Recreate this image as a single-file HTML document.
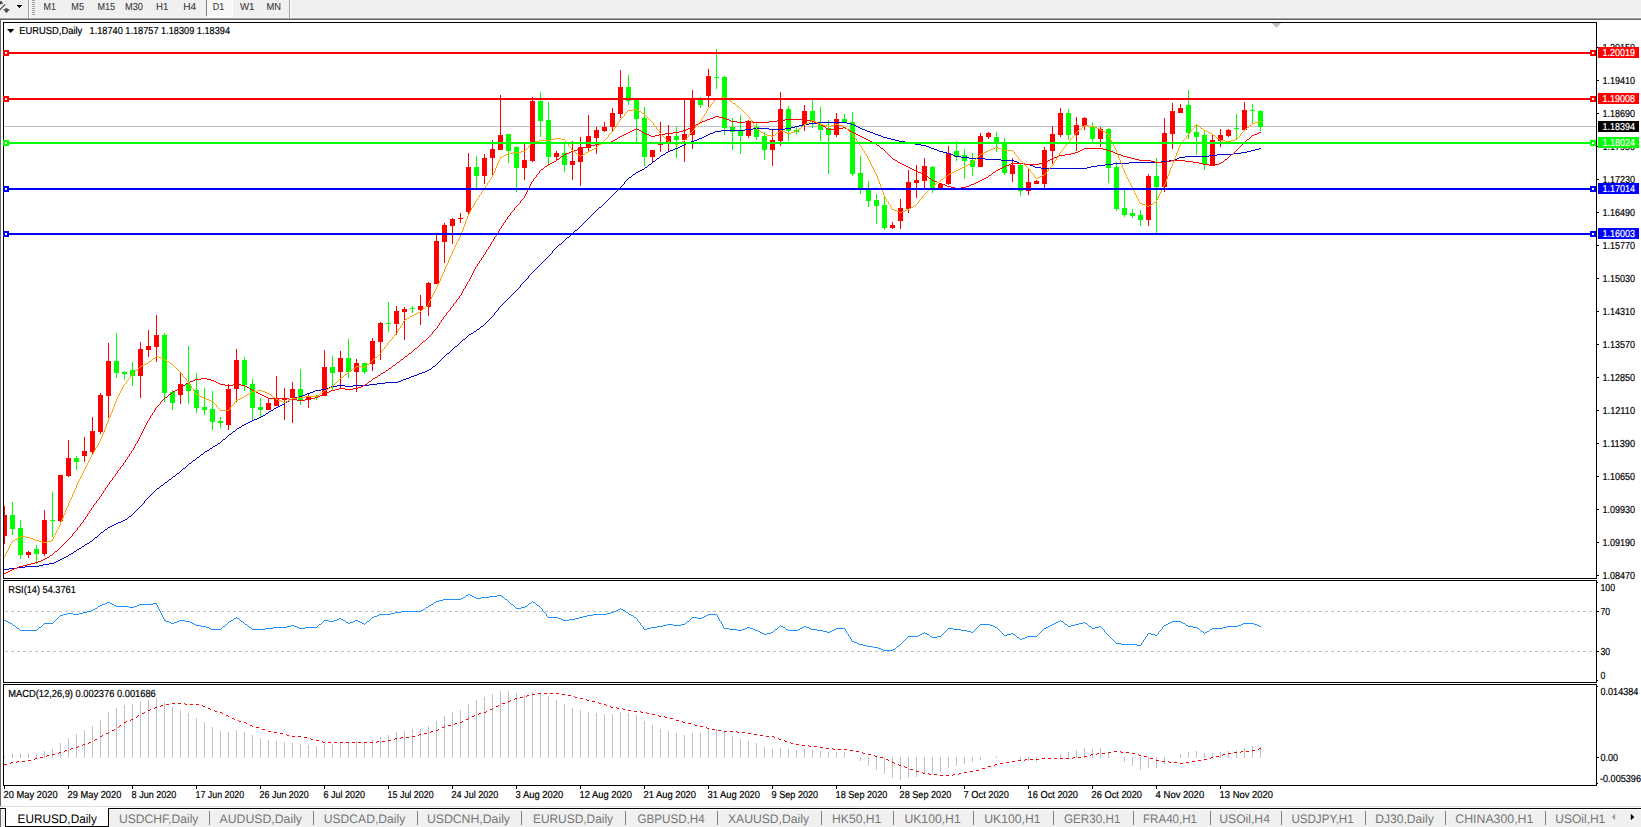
<!DOCTYPE html>
<html><head><meta charset="utf-8"><title>EURUSD,Daily</title>
<style>html,body{margin:0;padding:0;background:#fff;overflow:hidden}svg{display:block}text{font-family:'Liberation Sans',sans-serif;text-rendering:geometricPrecision}</style>
</head><body>
<svg width="1641" height="827" viewBox="0 0 1641 827">
<g shape-rendering="crispEdges">
<rect x="0" y="0" width="1641" height="827" fill="#ffffff"/>
<rect x="0" y="0" width="1641" height="18" fill="#f0f0f0"/>
<rect x="0" y="17" width="1641" height="1" fill="#f6f6f6"/>
<rect x="0" y="18" width="1641" height="1" fill="#a0a0a0"/>
<rect x="0" y="19" width="1641" height="1" fill="#696969"/>
<rect x="0" y="19" width="1" height="789" fill="#696969"/>
<rect x="28" y="0" width="1" height="18" fill="#a0a0a0"/>
<rect x="29" y="0" width="1" height="18" fill="#ffffff"/>
<rect x="289" y="0" width="1" height="18" fill="#a0a0a0"/>
<rect x="290" y="0" width="1" height="18" fill="#ffffff"/>
<rect x="32" y="0" width="3" height="1" fill="#a0a0a0"/>
<rect x="32" y="2" width="3" height="1" fill="#a0a0a0"/>
<rect x="32" y="4" width="3" height="1" fill="#a0a0a0"/>
<rect x="32" y="6" width="3" height="1" fill="#a0a0a0"/>
<rect x="32" y="8" width="3" height="1" fill="#a0a0a0"/>
<rect x="32" y="10" width="3" height="1" fill="#a0a0a0"/>
<rect x="32" y="12" width="3" height="1" fill="#a0a0a0"/>
<rect x="32" y="14" width="3" height="1" fill="#a0a0a0"/>
<rect x="207" y="0" width="25" height="16" fill="#f8f8f8"/>
<rect x="206" y="0" width="1" height="16" fill="#808080"/>
<rect x="207" y="16" width="26" height="1" fill="#ffffff"/>
<rect x="232" y="0" width="1" height="17" fill="#ffffff"/>
<path d="M17 5h5l-2.5 3z" fill="#000"/>
</g>
<path d="M0 1h1.5l1.7 2.5L0 4.5z M0 8.8L4.5 4l0.9 0.8L0 10.6z M3 9.3h2.2v-1h2.4v1H10L6.5 13z" fill="#4a4a4a"/>
<text x="43.6" y="10" font-size="10.2" fill="#383838" stroke="#383838" stroke-width="0.08" textLength="12.4" lengthAdjust="spacingAndGlyphs" xml:space="preserve">M1</text>
<text x="71.3" y="10" font-size="10.2" fill="#383838" stroke="#383838" stroke-width="0.08" textLength="12.7" lengthAdjust="spacingAndGlyphs" xml:space="preserve">M5</text>
<text x="97.4" y="10" font-size="10.2" fill="#383838" stroke="#383838" stroke-width="0.08" textLength="17.6" lengthAdjust="spacingAndGlyphs" xml:space="preserve">M15</text>
<text x="125" y="10" font-size="10.2" fill="#383838" stroke="#383838" stroke-width="0.08" textLength="18" lengthAdjust="spacingAndGlyphs" xml:space="preserve">M30</text>
<text x="156" y="10" font-size="10.2" fill="#383838" stroke="#383838" stroke-width="0.08" textLength="12.3" lengthAdjust="spacingAndGlyphs" xml:space="preserve">H1</text>
<text x="183.3" y="10" font-size="10.2" fill="#383838" stroke="#383838" stroke-width="0.08" textLength="12.9" lengthAdjust="spacingAndGlyphs" xml:space="preserve">H4</text>
<text x="212.8" y="10" font-size="10.2" fill="#383838" stroke="#383838" stroke-width="0.08" textLength="11.4" lengthAdjust="spacingAndGlyphs" xml:space="preserve">D1</text>
<text x="240" y="10" font-size="10.2" fill="#383838" stroke="#383838" stroke-width="0.08" textLength="14.5" lengthAdjust="spacingAndGlyphs" xml:space="preserve">W1</text>
<text x="266.5" y="10" font-size="10.2" fill="#383838" stroke="#383838" stroke-width="0.08" textLength="14.5" lengthAdjust="spacingAndGlyphs" xml:space="preserve">MN</text>
<g shape-rendering="crispEdges">
<rect x="3" y="22" width="1594" height="1" fill="#000000"/>
<rect x="3" y="578" width="1594" height="1" fill="#000000"/>
<rect x="3" y="22" width="1" height="557" fill="#000000"/>
<rect x="1596" y="22" width="1" height="557" fill="#000000"/>
<rect x="3" y="580" width="1594" height="1" fill="#000000"/>
<rect x="3" y="682" width="1594" height="1" fill="#000000"/>
<rect x="3" y="580" width="1" height="103" fill="#000000"/>
<rect x="1596" y="580" width="1" height="103" fill="#000000"/>
<rect x="3" y="684" width="1594" height="1" fill="#000000"/>
<rect x="3" y="785" width="1594" height="1" fill="#000000"/>
<rect x="3" y="684" width="1" height="102" fill="#000000"/>
<rect x="1596" y="684" width="1" height="102" fill="#000000"/>
<path d="M1272 23h9l-4.5 5z" fill="#c0c0c0" shape-rendering="auto"/>
<rect x="4" y="126" width="1592" height="1" fill="#c0c0c0"/>
<rect x="4" y="506" width="1" height="38" fill="#ff0000"/>
<rect x="4" y="515" width="3" height="21" fill="#ff0000"/>
<rect x="12" y="502" width="1" height="33" fill="#00ff00"/>
<rect x="10" y="515" width="5" height="14" fill="#00ff00"/>
<rect x="20" y="520" width="1" height="39" fill="#00ff00"/>
<rect x="18" y="528" width="5" height="27" fill="#00ff00"/>
<rect x="28" y="551" width="1" height="7" fill="#ff0000"/>
<rect x="26" y="552" width="5" height="3" fill="#ff0000"/>
<rect x="36" y="545" width="1" height="19" fill="#00ff00"/>
<rect x="34" y="549" width="5" height="5" fill="#00ff00"/>
<rect x="44" y="510" width="1" height="46" fill="#ff0000"/>
<rect x="42" y="520" width="5" height="34" fill="#ff0000"/>
<rect x="52" y="492" width="1" height="45" fill="#00ff00"/>
<rect x="50" y="520" width="5" height="1" fill="#00ff00"/>
<rect x="60" y="475" width="1" height="47" fill="#ff0000"/>
<rect x="58" y="475" width="5" height="46" fill="#ff0000"/>
<rect x="68" y="440" width="1" height="37" fill="#ff0000"/>
<rect x="66" y="458" width="5" height="18" fill="#ff0000"/>
<rect x="76" y="456" width="1" height="14" fill="#00ff00"/>
<rect x="74" y="458" width="5" height="4" fill="#00ff00"/>
<rect x="84" y="437" width="1" height="25" fill="#ff0000"/>
<rect x="82" y="451" width="5" height="5" fill="#ff0000"/>
<rect x="92" y="417" width="1" height="37" fill="#ff0000"/>
<rect x="90" y="431" width="5" height="21" fill="#ff0000"/>
<rect x="100" y="393" width="1" height="41" fill="#ff0000"/>
<rect x="98" y="395" width="5" height="37" fill="#ff0000"/>
<rect x="108" y="343" width="1" height="75" fill="#ff0000"/>
<rect x="106" y="361" width="5" height="35" fill="#ff0000"/>
<rect x="116" y="333" width="1" height="45" fill="#00ff00"/>
<rect x="114" y="361" width="5" height="12" fill="#00ff00"/>
<rect x="124" y="371" width="1" height="9" fill="#00ff00"/>
<rect x="122" y="372" width="5" height="2" fill="#00ff00"/>
<rect x="132" y="362" width="1" height="24" fill="#00ff00"/>
<rect x="130" y="370" width="5" height="6" fill="#00ff00"/>
<rect x="140" y="342" width="1" height="56" fill="#ff0000"/>
<rect x="138" y="349" width="5" height="27" fill="#ff0000"/>
<rect x="148" y="330" width="1" height="27" fill="#ff0000"/>
<rect x="146" y="346" width="5" height="4" fill="#ff0000"/>
<rect x="156" y="315" width="1" height="47" fill="#ff0000"/>
<rect x="154" y="335" width="5" height="12" fill="#ff0000"/>
<rect x="164" y="333" width="1" height="69" fill="#00ff00"/>
<rect x="162" y="335" width="5" height="58" fill="#00ff00"/>
<rect x="172" y="390" width="1" height="20" fill="#00ff00"/>
<rect x="170" y="392" width="5" height="11" fill="#00ff00"/>
<rect x="180" y="373" width="1" height="31" fill="#ff0000"/>
<rect x="178" y="384" width="5" height="11" fill="#ff0000"/>
<rect x="188" y="346" width="1" height="58" fill="#00ff00"/>
<rect x="186" y="384" width="5" height="7" fill="#00ff00"/>
<rect x="196" y="373" width="1" height="40" fill="#00ff00"/>
<rect x="194" y="390" width="5" height="18" fill="#00ff00"/>
<rect x="204" y="388" width="1" height="27" fill="#00ff00"/>
<rect x="202" y="407" width="5" height="3" fill="#00ff00"/>
<rect x="212" y="391" width="1" height="39" fill="#00ff00"/>
<rect x="210" y="409" width="5" height="13" fill="#00ff00"/>
<rect x="220" y="417" width="1" height="11" fill="#00ff00"/>
<rect x="218" y="421" width="5" height="2" fill="#00ff00"/>
<rect x="228" y="384" width="1" height="46" fill="#ff0000"/>
<rect x="226" y="389" width="5" height="36" fill="#ff0000"/>
<rect x="236" y="349" width="1" height="53" fill="#ff0000"/>
<rect x="234" y="360" width="5" height="29" fill="#ff0000"/>
<rect x="244" y="357" width="1" height="34" fill="#00ff00"/>
<rect x="242" y="360" width="5" height="25" fill="#00ff00"/>
<rect x="252" y="379" width="1" height="41" fill="#00ff00"/>
<rect x="250" y="384" width="5" height="24" fill="#00ff00"/>
<rect x="260" y="398" width="1" height="20" fill="#00ff00"/>
<rect x="258" y="407" width="5" height="3" fill="#00ff00"/>
<rect x="268" y="398" width="1" height="12" fill="#ff0000"/>
<rect x="266" y="403" width="5" height="7" fill="#ff0000"/>
<rect x="276" y="376" width="1" height="30" fill="#ff0000"/>
<rect x="274" y="399" width="5" height="7" fill="#ff0000"/>
<rect x="284" y="388" width="1" height="32" fill="#ff0000"/>
<rect x="282" y="398" width="5" height="2" fill="#ff0000"/>
<rect x="292" y="382" width="1" height="41" fill="#ff0000"/>
<rect x="290" y="389" width="5" height="9" fill="#ff0000"/>
<rect x="300" y="369" width="1" height="36" fill="#00ff00"/>
<rect x="298" y="389" width="5" height="11" fill="#00ff00"/>
<rect x="308" y="394" width="1" height="14" fill="#ff0000"/>
<rect x="306" y="397" width="5" height="3" fill="#ff0000"/>
<rect x="316" y="395" width="1" height="5" fill="#00ff00"/>
<rect x="314" y="396" width="5" height="1" fill="#00ff00"/>
<rect x="324" y="350" width="1" height="46" fill="#ff0000"/>
<rect x="322" y="367" width="5" height="29" fill="#ff0000"/>
<rect x="332" y="356" width="1" height="34" fill="#00ff00"/>
<rect x="330" y="367" width="5" height="6" fill="#00ff00"/>
<rect x="340" y="351" width="1" height="37" fill="#ff0000"/>
<rect x="338" y="358" width="5" height="14" fill="#ff0000"/>
<rect x="348" y="339" width="1" height="39" fill="#00ff00"/>
<rect x="346" y="358" width="5" height="14" fill="#00ff00"/>
<rect x="356" y="359" width="1" height="33" fill="#ff0000"/>
<rect x="354" y="363" width="5" height="9" fill="#ff0000"/>
<rect x="364" y="363" width="1" height="11" fill="#00ff00"/>
<rect x="362" y="363" width="5" height="9" fill="#00ff00"/>
<rect x="372" y="338" width="1" height="33" fill="#ff0000"/>
<rect x="370" y="341" width="5" height="23" fill="#ff0000"/>
<rect x="380" y="322" width="1" height="38" fill="#ff0000"/>
<rect x="378" y="323" width="5" height="19" fill="#ff0000"/>
<rect x="388" y="302" width="1" height="30" fill="#00ff00"/>
<rect x="386" y="323" width="5" height="1" fill="#00ff00"/>
<rect x="396" y="306" width="1" height="29" fill="#ff0000"/>
<rect x="394" y="311" width="5" height="13" fill="#ff0000"/>
<rect x="404" y="307" width="1" height="33" fill="#ff0000"/>
<rect x="402" y="309" width="5" height="3" fill="#ff0000"/>
<rect x="412" y="306" width="1" height="7" fill="#00ff00"/>
<rect x="410" y="308" width="5" height="1" fill="#00ff00"/>
<rect x="420" y="295" width="1" height="30" fill="#ff0000"/>
<rect x="418" y="306" width="5" height="4" fill="#ff0000"/>
<rect x="428" y="282" width="1" height="34" fill="#ff0000"/>
<rect x="426" y="283" width="5" height="24" fill="#ff0000"/>
<rect x="436" y="234" width="1" height="50" fill="#ff0000"/>
<rect x="434" y="241" width="5" height="43" fill="#ff0000"/>
<rect x="444" y="223" width="1" height="40" fill="#ff0000"/>
<rect x="442" y="225" width="5" height="17" fill="#ff0000"/>
<rect x="452" y="218" width="1" height="26" fill="#ff0000"/>
<rect x="450" y="219" width="5" height="7" fill="#ff0000"/>
<rect x="460" y="213" width="1" height="10" fill="#ff0000"/>
<rect x="458" y="218" width="5" height="1" fill="#ff0000"/>
<rect x="468" y="153" width="1" height="61" fill="#ff0000"/>
<rect x="466" y="167" width="5" height="45" fill="#ff0000"/>
<rect x="476" y="156" width="1" height="34" fill="#00ff00"/>
<rect x="474" y="167" width="5" height="9" fill="#00ff00"/>
<rect x="484" y="154" width="1" height="30" fill="#ff0000"/>
<rect x="482" y="158" width="5" height="18" fill="#ff0000"/>
<rect x="492" y="140" width="1" height="37" fill="#ff0000"/>
<rect x="490" y="149" width="5" height="9" fill="#ff0000"/>
<rect x="500" y="95" width="1" height="55" fill="#ff0000"/>
<rect x="498" y="135" width="5" height="15" fill="#ff0000"/>
<rect x="508" y="134" width="1" height="29" fill="#00ff00"/>
<rect x="506" y="134" width="5" height="17" fill="#00ff00"/>
<rect x="516" y="146" width="1" height="46" fill="#00ff00"/>
<rect x="514" y="147" width="5" height="21" fill="#00ff00"/>
<rect x="524" y="144" width="1" height="36" fill="#ff0000"/>
<rect x="522" y="160" width="5" height="8" fill="#ff0000"/>
<rect x="532" y="97" width="1" height="65" fill="#ff0000"/>
<rect x="530" y="101" width="5" height="60" fill="#ff0000"/>
<rect x="540" y="92" width="1" height="45" fill="#00ff00"/>
<rect x="538" y="101" width="5" height="20" fill="#00ff00"/>
<rect x="548" y="102" width="1" height="64" fill="#00ff00"/>
<rect x="546" y="120" width="5" height="37" fill="#00ff00"/>
<rect x="556" y="151" width="1" height="9" fill="#ff0000"/>
<rect x="554" y="153" width="5" height="4" fill="#ff0000"/>
<rect x="564" y="143" width="1" height="29" fill="#00ff00"/>
<rect x="562" y="153" width="5" height="12" fill="#00ff00"/>
<rect x="572" y="141" width="1" height="39" fill="#ff0000"/>
<rect x="570" y="161" width="5" height="4" fill="#ff0000"/>
<rect x="580" y="137" width="1" height="49" fill="#ff0000"/>
<rect x="578" y="147" width="5" height="15" fill="#ff0000"/>
<rect x="588" y="115" width="1" height="37" fill="#ff0000"/>
<rect x="586" y="136" width="5" height="12" fill="#ff0000"/>
<rect x="596" y="127" width="1" height="27" fill="#ff0000"/>
<rect x="594" y="130" width="5" height="8" fill="#ff0000"/>
<rect x="604" y="122" width="1" height="10" fill="#ff0000"/>
<rect x="602" y="127" width="5" height="4" fill="#ff0000"/>
<rect x="612" y="108" width="1" height="24" fill="#ff0000"/>
<rect x="610" y="113" width="5" height="14" fill="#ff0000"/>
<rect x="620" y="70" width="1" height="48" fill="#ff0000"/>
<rect x="618" y="87" width="5" height="27" fill="#ff0000"/>
<rect x="628" y="75" width="1" height="30" fill="#00ff00"/>
<rect x="626" y="87" width="5" height="14" fill="#00ff00"/>
<rect x="636" y="100" width="1" height="44" fill="#00ff00"/>
<rect x="634" y="100" width="5" height="19" fill="#00ff00"/>
<rect x="644" y="107" width="1" height="59" fill="#00ff00"/>
<rect x="642" y="118" width="5" height="39" fill="#00ff00"/>
<rect x="652" y="150" width="1" height="12" fill="#ff0000"/>
<rect x="650" y="150" width="5" height="7" fill="#ff0000"/>
<rect x="660" y="122" width="1" height="30" fill="#ff0000"/>
<rect x="658" y="144" width="5" height="1" fill="#ff0000"/>
<rect x="668" y="125" width="1" height="27" fill="#ff0000"/>
<rect x="666" y="136" width="5" height="6" fill="#ff0000"/>
<rect x="676" y="127" width="1" height="31" fill="#00ff00"/>
<rect x="674" y="136" width="5" height="4" fill="#00ff00"/>
<rect x="684" y="100" width="1" height="62" fill="#ff0000"/>
<rect x="682" y="134" width="5" height="6" fill="#ff0000"/>
<rect x="692" y="90" width="1" height="59" fill="#ff0000"/>
<rect x="690" y="99" width="5" height="36" fill="#ff0000"/>
<rect x="700" y="97" width="1" height="11" fill="#00ff00"/>
<rect x="698" y="100" width="5" height="5" fill="#00ff00"/>
<rect x="708" y="69" width="1" height="38" fill="#ff0000"/>
<rect x="706" y="76" width="5" height="20" fill="#ff0000"/>
<rect x="716" y="49" width="1" height="40" fill="#00ff00"/>
<rect x="714" y="77" width="5" height="1" fill="#00ff00"/>
<rect x="724" y="76" width="1" height="59" fill="#00ff00"/>
<rect x="722" y="77" width="5" height="51" fill="#00ff00"/>
<rect x="732" y="118" width="1" height="32" fill="#00ff00"/>
<rect x="730" y="127" width="5" height="5" fill="#00ff00"/>
<rect x="740" y="115" width="1" height="39" fill="#00ff00"/>
<rect x="738" y="130" width="5" height="6" fill="#00ff00"/>
<rect x="748" y="120" width="1" height="18" fill="#ff0000"/>
<rect x="746" y="121" width="5" height="15" fill="#ff0000"/>
<rect x="756" y="123" width="1" height="17" fill="#00ff00"/>
<rect x="754" y="127" width="5" height="10" fill="#00ff00"/>
<rect x="764" y="132" width="1" height="28" fill="#00ff00"/>
<rect x="762" y="136" width="5" height="14" fill="#00ff00"/>
<rect x="772" y="130" width="1" height="36" fill="#ff0000"/>
<rect x="770" y="140" width="5" height="10" fill="#ff0000"/>
<rect x="780" y="92" width="1" height="54" fill="#ff0000"/>
<rect x="778" y="109" width="5" height="32" fill="#ff0000"/>
<rect x="788" y="106" width="1" height="35" fill="#00ff00"/>
<rect x="786" y="109" width="5" height="22" fill="#00ff00"/>
<rect x="796" y="127" width="1" height="7" fill="#00ff00"/>
<rect x="794" y="130" width="5" height="2" fill="#00ff00"/>
<rect x="804" y="105" width="1" height="26" fill="#ff0000"/>
<rect x="802" y="111" width="5" height="14" fill="#ff0000"/>
<rect x="812" y="100" width="1" height="28" fill="#00ff00"/>
<rect x="810" y="111" width="5" height="11" fill="#00ff00"/>
<rect x="820" y="107" width="1" height="34" fill="#00ff00"/>
<rect x="818" y="124" width="5" height="6" fill="#00ff00"/>
<rect x="828" y="120" width="1" height="54" fill="#00ff00"/>
<rect x="826" y="128" width="5" height="7" fill="#00ff00"/>
<rect x="836" y="113" width="1" height="24" fill="#ff0000"/>
<rect x="834" y="119" width="5" height="16" fill="#ff0000"/>
<rect x="844" y="114" width="1" height="9" fill="#00ff00"/>
<rect x="842" y="119" width="5" height="3" fill="#00ff00"/>
<rect x="852" y="112" width="1" height="64" fill="#00ff00"/>
<rect x="850" y="122" width="5" height="52" fill="#00ff00"/>
<rect x="860" y="156" width="1" height="38" fill="#00ff00"/>
<rect x="858" y="173" width="5" height="15" fill="#00ff00"/>
<rect x="868" y="181" width="1" height="26" fill="#00ff00"/>
<rect x="866" y="190" width="5" height="11" fill="#00ff00"/>
<rect x="876" y="194" width="1" height="30" fill="#00ff00"/>
<rect x="874" y="200" width="5" height="6" fill="#00ff00"/>
<rect x="884" y="196" width="1" height="34" fill="#00ff00"/>
<rect x="882" y="205" width="5" height="23" fill="#00ff00"/>
<rect x="892" y="222" width="1" height="7" fill="#ff0000"/>
<rect x="890" y="225" width="5" height="3" fill="#ff0000"/>
<rect x="900" y="199" width="1" height="30" fill="#ff0000"/>
<rect x="898" y="208" width="5" height="13" fill="#ff0000"/>
<rect x="908" y="170" width="1" height="43" fill="#ff0000"/>
<rect x="906" y="182" width="5" height="27" fill="#ff0000"/>
<rect x="916" y="165" width="1" height="33" fill="#ff0000"/>
<rect x="914" y="180" width="5" height="3" fill="#ff0000"/>
<rect x="924" y="158" width="1" height="30" fill="#ff0000"/>
<rect x="922" y="166" width="5" height="15" fill="#ff0000"/>
<rect x="932" y="166" width="1" height="27" fill="#00ff00"/>
<rect x="930" y="167" width="5" height="21" fill="#00ff00"/>
<rect x="940" y="183" width="1" height="5" fill="#ff0000"/>
<rect x="938" y="184" width="5" height="4" fill="#ff0000"/>
<rect x="948" y="146" width="1" height="39" fill="#ff0000"/>
<rect x="946" y="153" width="5" height="31" fill="#ff0000"/>
<rect x="956" y="141" width="1" height="20" fill="#00ff00"/>
<rect x="954" y="151" width="5" height="6" fill="#00ff00"/>
<rect x="964" y="149" width="1" height="30" fill="#00ff00"/>
<rect x="962" y="155" width="5" height="6" fill="#00ff00"/>
<rect x="972" y="153" width="1" height="23" fill="#00ff00"/>
<rect x="970" y="160" width="5" height="7" fill="#00ff00"/>
<rect x="980" y="133" width="1" height="34" fill="#ff0000"/>
<rect x="978" y="136" width="5" height="31" fill="#ff0000"/>
<rect x="988" y="132" width="1" height="7" fill="#ff0000"/>
<rect x="986" y="133" width="5" height="4" fill="#ff0000"/>
<rect x="996" y="132" width="1" height="20" fill="#00ff00"/>
<rect x="994" y="137" width="5" height="6" fill="#00ff00"/>
<rect x="1004" y="138" width="1" height="37" fill="#00ff00"/>
<rect x="1002" y="143" width="5" height="30" fill="#00ff00"/>
<rect x="1012" y="158" width="1" height="24" fill="#ff0000"/>
<rect x="1010" y="165" width="5" height="9" fill="#ff0000"/>
<rect x="1020" y="164" width="1" height="32" fill="#00ff00"/>
<rect x="1018" y="165" width="5" height="26" fill="#00ff00"/>
<rect x="1028" y="169" width="1" height="26" fill="#ff0000"/>
<rect x="1026" y="182" width="5" height="9" fill="#ff0000"/>
<rect x="1036" y="180" width="1" height="4" fill="#ff0000"/>
<rect x="1034" y="181" width="5" height="3" fill="#ff0000"/>
<rect x="1044" y="147" width="1" height="41" fill="#ff0000"/>
<rect x="1042" y="150" width="5" height="34" fill="#ff0000"/>
<rect x="1052" y="126" width="1" height="38" fill="#ff0000"/>
<rect x="1050" y="134" width="5" height="17" fill="#ff0000"/>
<rect x="1060" y="108" width="1" height="29" fill="#ff0000"/>
<rect x="1058" y="113" width="5" height="22" fill="#ff0000"/>
<rect x="1068" y="109" width="1" height="31" fill="#00ff00"/>
<rect x="1066" y="113" width="5" height="22" fill="#00ff00"/>
<rect x="1076" y="117" width="1" height="34" fill="#ff0000"/>
<rect x="1074" y="125" width="5" height="10" fill="#ff0000"/>
<rect x="1084" y="117" width="1" height="13" fill="#ff0000"/>
<rect x="1082" y="118" width="5" height="8" fill="#ff0000"/>
<rect x="1092" y="122" width="1" height="20" fill="#00ff00"/>
<rect x="1090" y="126" width="5" height="13" fill="#00ff00"/>
<rect x="1100" y="127" width="1" height="20" fill="#ff0000"/>
<rect x="1098" y="129" width="5" height="10" fill="#ff0000"/>
<rect x="1108" y="128" width="1" height="55" fill="#00ff00"/>
<rect x="1106" y="129" width="5" height="39" fill="#00ff00"/>
<rect x="1116" y="162" width="1" height="49" fill="#00ff00"/>
<rect x="1114" y="167" width="5" height="42" fill="#00ff00"/>
<rect x="1124" y="190" width="1" height="27" fill="#00ff00"/>
<rect x="1122" y="208" width="5" height="7" fill="#00ff00"/>
<rect x="1132" y="209" width="1" height="9" fill="#00ff00"/>
<rect x="1130" y="213" width="5" height="3" fill="#00ff00"/>
<rect x="1140" y="210" width="1" height="16" fill="#00ff00"/>
<rect x="1138" y="215" width="5" height="5" fill="#00ff00"/>
<rect x="1148" y="174" width="1" height="52" fill="#ff0000"/>
<rect x="1146" y="176" width="5" height="44" fill="#ff0000"/>
<rect x="1156" y="158" width="1" height="75" fill="#00ff00"/>
<rect x="1154" y="176" width="5" height="11" fill="#00ff00"/>
<rect x="1164" y="118" width="1" height="74" fill="#ff0000"/>
<rect x="1162" y="133" width="5" height="54" fill="#ff0000"/>
<rect x="1172" y="103" width="1" height="46" fill="#ff0000"/>
<rect x="1170" y="111" width="5" height="23" fill="#ff0000"/>
<rect x="1180" y="104" width="1" height="9" fill="#ff0000"/>
<rect x="1178" y="108" width="5" height="5" fill="#ff0000"/>
<rect x="1188" y="90" width="1" height="49" fill="#00ff00"/>
<rect x="1186" y="105" width="5" height="28" fill="#00ff00"/>
<rect x="1196" y="124" width="1" height="31" fill="#00ff00"/>
<rect x="1194" y="132" width="5" height="5" fill="#00ff00"/>
<rect x="1204" y="131" width="1" height="39" fill="#00ff00"/>
<rect x="1202" y="135" width="5" height="29" fill="#00ff00"/>
<rect x="1212" y="134" width="1" height="32" fill="#ff0000"/>
<rect x="1210" y="140" width="5" height="25" fill="#ff0000"/>
<rect x="1220" y="129" width="1" height="18" fill="#ff0000"/>
<rect x="1218" y="135" width="5" height="6" fill="#ff0000"/>
<rect x="1228" y="129" width="1" height="8" fill="#ff0000"/>
<rect x="1226" y="130" width="5" height="6" fill="#ff0000"/>
<rect x="1236" y="114" width="1" height="25" fill="#00ff00"/>
<rect x="1234" y="128" width="5" height="1" fill="#00ff00"/>
<rect x="1244" y="102" width="1" height="28" fill="#ff0000"/>
<rect x="1242" y="110" width="5" height="20" fill="#ff0000"/>
<rect x="1252" y="104" width="1" height="19" fill="#00ff00"/>
<rect x="1250" y="110" width="5" height="1" fill="#00ff00"/>
<rect x="1260" y="110" width="1" height="21" fill="#00ff00"/>
<rect x="1258" y="111" width="5" height="16" fill="#00ff00"/>
<path d="M4 569h5v1h-5zM9 568h8v1h-8zM17 567h8v1h-8zM25 566h14v1h-14zM39 565h4v1h-4zM43 564h6v1h-6zM49 563h5v1h-5zM54 562h2v1h-2zM56 561h2v1h-2zM58 560h2v1h-2zM60 559h2v1h-2zM62 558h2v1h-2zM64 557h2v1h-2zM66 556h2v1h-2zM68 555h1v1h-1zM69 554h2v1h-2zM71 553h2v1h-2zM73 552h1v1h-1zM74 551h2v1h-2zM76 550h1v1h-1zM77 549h2v1h-2zM79 548h2v1h-2zM81 547h1v1h-1zM82 546h2v1h-2zM84 545h1v1h-1zM85 544h2v1h-2zM87 543h2v1h-2zM89 542h1v1h-1zM90 541h2v1h-2zM92 540h1v1h-1zM93 539h1v1h-1zM94 538h1v1h-1zM95 537h2v1h-2zM97 536h1v1h-1zM98 535h1v1h-1zM99 534h1v1h-1zM100 533h1v1h-1zM101 532h2v1h-2zM103 531h1v1h-1zM104 530h1v1h-1zM105 529h2v1h-2zM107 528h1v1h-1zM108 527h2v1h-2zM110 526h2v1h-2zM112 525h2v1h-2zM114 524h2v1h-2zM116 523h2v1h-2zM118 522h3v1h-3zM121 521h2v1h-2zM123 520h2v1h-2zM125 519h2v1h-2zM127 518h1v1h-1zM128 517h1v1h-1zM129 516h2v1h-2zM131 515h1v1h-1zM132 514h1v1h-1zM133 513h1v1h-1zM134 512h1v1h-1zM135 511h1v1h-1zM136 510h1v1h-1zM137 509h1v1h-1zM138 508h1v1h-1zM139 507h1v1h-1zM140 506h1v1h-1zM141 505h1v1h-1zM142 504h1v1h-1zM143 503h1v1h-1zM144 501h1v2h-1zM145 500h1v1h-1zM146 499h1v1h-1zM147 498h1v1h-1zM148 497h1v1h-1zM149 496h1v1h-1zM150 495h1v1h-1zM151 494h1v1h-1zM152 493h1v1h-1zM153 492h1v1h-1zM154 491h1v1h-1zM155 490h1v1h-1zM156 489h1v1h-1zM157 488h2v1h-2zM159 487h1v1h-1zM160 486h1v1h-1zM161 485h2v1h-2zM163 484h1v1h-1zM164 483h1v1h-1zM165 482h2v1h-2zM167 481h1v1h-1zM168 480h1v1h-1zM169 479h2v1h-2zM171 478h1v1h-1zM172 477h1v1h-1zM173 476h2v1h-2zM175 475h1v1h-1zM176 474h1v1h-1zM177 473h2v1h-2zM179 472h1v1h-1zM180 471h1v1h-1zM181 470h1v1h-1zM182 469h1v1h-1zM183 468h2v1h-2zM185 467h1v1h-1zM186 466h1v1h-1zM187 465h1v1h-1zM188 464h1v1h-1zM189 463h2v1h-2zM191 462h1v1h-1zM192 461h1v1h-1zM193 460h2v1h-2zM195 459h1v1h-1zM196 458h1v1h-1zM197 457h2v1h-2zM199 456h1v1h-1zM200 455h1v1h-1zM201 454h2v1h-2zM203 453h1v1h-1zM204 452h1v1h-1zM205 451h2v1h-2zM207 450h2v1h-2zM209 449h1v1h-1zM210 448h2v1h-2zM212 447h1v1h-1zM213 446h2v1h-2zM215 445h2v1h-2zM217 444h1v1h-1zM218 443h2v1h-2zM220 442h1v1h-1zM221 441h1v1h-1zM222 440h1v1h-1zM223 439h2v1h-2zM225 438h1v1h-1zM226 437h1v1h-1zM227 436h1v1h-1zM228 435h1v1h-1zM229 434h2v1h-2zM231 433h1v1h-1zM232 432h1v1h-1zM233 431h2v1h-2zM235 430h1v1h-1zM236 429h1v1h-1zM237 428h2v1h-2zM239 427h2v1h-2zM241 426h1v1h-1zM242 425h2v1h-2zM244 424h2v1h-2zM246 423h2v1h-2zM248 422h2v1h-2zM250 421h2v1h-2zM252 420h2v1h-2zM254 419h3v1h-3zM257 418h2v1h-2zM259 417h2v1h-2zM261 416h2v1h-2zM263 415h2v1h-2zM265 414h1v1h-1zM266 413h2v1h-2zM268 412h1v1h-1zM269 411h2v1h-2zM271 410h2v1h-2zM273 409h1v1h-1zM274 408h2v1h-2zM276 407h2v1h-2zM278 406h2v1h-2zM280 405h2v1h-2zM282 404h2v1h-2zM284 403h1v1h-1zM285 402h2v1h-2zM287 401h2v1h-2zM289 400h1v1h-1zM290 399h2v1h-2zM292 398h3v1h-3zM295 397h4v1h-4zM299 396h3v1h-3zM302 395h3v1h-3zM305 394h2v1h-2zM307 393h3v1h-3zM310 392h3v1h-3zM313 391h2v1h-2zM315 390h6v1h-6zM321 389h5v1h-5zM326 388h3v1h-3zM329 387h2v1h-2zM331 386h6v1h-6zM337 385h8v1h-8zM345 386h8v1h-8zM353 385h16v1h-16zM369 384h8v1h-8zM377 383h8v1h-8zM385 382h13v1h-13zM398 381h3v1h-3zM401 380h2v1h-2zM403 379h3v1h-3zM406 378h3v1h-3zM409 377h2v1h-2zM411 376h3v1h-3zM414 375h3v1h-3zM417 374h2v1h-2zM419 373h3v1h-3zM422 372h3v1h-3zM425 371h2v1h-2zM427 370h2v1h-2zM429 369h2v1h-2zM431 368h1v1h-1zM432 367h1v1h-1zM433 366h2v1h-2zM435 365h1v1h-1zM436 364h1v1h-1zM437 363h1v1h-1zM438 362h1v1h-1zM439 361h1v1h-1zM440 360h1v1h-1zM441 359h1v1h-1zM442 358h1v1h-1zM443 357h1v1h-1zM444 356h1v1h-1zM445 355h1v1h-1zM446 354h1v1h-1zM447 353h2v1h-2zM449 352h1v1h-1zM450 351h1v1h-1zM451 350h1v1h-1zM452 349h1v1h-1zM453 348h1v1h-1zM454 347h1v1h-1zM455 346h2v1h-2zM457 345h1v1h-1zM458 344h1v1h-1zM459 343h1v1h-1zM460 342h1v1h-1zM461 341h1v1h-1zM462 340h1v1h-1zM463 339h2v1h-2zM465 338h1v1h-1zM466 337h1v1h-1zM467 336h1v1h-1zM468 335h1v1h-1zM469 334h2v1h-2zM471 333h2v1h-2zM473 332h1v1h-1zM474 331h2v1h-2zM476 330h1v1h-1zM477 329h2v1h-2zM479 328h1v1h-1zM480 327h1v1h-1zM481 326h2v1h-2zM483 325h1v1h-1zM484 324h1v1h-1zM485 323h1v1h-1zM486 322h1v1h-1zM487 321h1v1h-1zM488 320h1v1h-1zM489 319h1v1h-1zM490 318h1v1h-1zM491 317h1v1h-1zM492 316h1v1h-1zM493 315h1v1h-1zM494 313h1v2h-1zM495 312h1v1h-1zM496 311h1v1h-1zM497 310h1v1h-1zM498 308h1v2h-1zM499 307h1v1h-1zM500 306h1v1h-1zM501 305h1v1h-1zM502 304h1v1h-1zM503 303h1v1h-1zM504 302h1v1h-1zM505 301h1v1h-1zM506 300h1v1h-1zM507 299h1v1h-1zM508 298h1v1h-1zM509 297h1v1h-1zM510 296h1v1h-1zM511 295h1v1h-1zM512 294h1v1h-1zM513 293h1v1h-1zM514 292h1v1h-1zM515 291h1v1h-1zM516 290h1v1h-1zM517 289h1v1h-1zM518 288h1v1h-1zM519 287h1v1h-1zM520 285h1v2h-1zM521 284h1v1h-1zM522 283h1v1h-1zM523 282h1v1h-1zM524 281h1v1h-1zM525 280h1v1h-1zM526 279h1v1h-1zM527 278h1v1h-1zM528 276h1v2h-1zM529 275h1v1h-1zM530 274h1v1h-1zM531 273h1v1h-1zM532 272h1v1h-1zM533 271h1v1h-1zM534 270h1v1h-1zM535 269h1v1h-1zM536 268h1v1h-1zM537 267h1v1h-1zM538 266h1v1h-1zM539 265h1v1h-1zM540 264h1v1h-1zM541 263h1v1h-1zM542 262h1v1h-1zM543 261h1v1h-1zM544 260h1v1h-1zM545 259h1v1h-1zM546 258h1v1h-1zM547 257h1v1h-1zM548 256h1v1h-1zM549 255h1v1h-1zM550 254h1v1h-1zM551 253h1v1h-1zM552 251h1v2h-1zM553 250h1v1h-1zM554 249h1v1h-1zM555 248h1v1h-1zM556 247h1v1h-1zM557 246h1v1h-1zM558 245h1v1h-1zM559 244h2v1h-2zM561 243h1v1h-1zM562 242h1v1h-1zM563 241h1v1h-1zM564 240h1v1h-1zM565 239h1v1h-1zM566 238h1v1h-1zM567 237h2v1h-2zM569 236h1v1h-1zM570 235h1v1h-1zM571 234h1v1h-1zM572 233h1v1h-1zM573 232h1v1h-1zM574 231h1v1h-1zM575 230h2v1h-2zM577 229h1v1h-1zM578 228h1v1h-1zM579 227h1v1h-1zM580 226h1v1h-1zM581 225h1v1h-1zM582 224h1v1h-1zM583 223h1v1h-1zM584 222h1v1h-1zM585 221h1v1h-1zM586 220h1v1h-1zM587 219h1v1h-1zM588 218h1v1h-1zM589 217h1v1h-1zM590 216h1v1h-1zM591 215h1v1h-1zM592 214h1v1h-1zM593 213h1v1h-1zM594 212h1v1h-1zM595 211h1v1h-1zM596 210h1v1h-1zM597 209h1v1h-1zM598 208h1v1h-1zM599 207h2v1h-2zM601 206h1v1h-1zM602 205h1v1h-1zM603 204h1v1h-1zM604 203h1v1h-1zM605 202h1v1h-1zM606 201h1v1h-1zM607 200h1v1h-1zM608 199h1v1h-1zM609 198h1v1h-1zM610 197h1v1h-1zM611 196h1v1h-1zM612 195h1v1h-1zM613 194h1v1h-1zM614 193h1v1h-1zM615 192h1v1h-1zM616 191h1v1h-1zM617 190h1v1h-1zM618 189h1v1h-1zM619 188h1v1h-1zM620 187h1v1h-1zM621 186h1v1h-1zM622 185h1v1h-1zM623 184h1v1h-1zM624 182h1v2h-1zM625 181h1v1h-1zM626 180h1v1h-1zM627 179h1v1h-1zM628 178h1v1h-1zM629 177h2v1h-2zM631 176h1v1h-1zM632 175h1v1h-1zM633 174h2v1h-2zM635 173h1v1h-1zM636 172h2v1h-2zM638 171h2v1h-2zM640 170h2v1h-2zM642 169h2v1h-2zM644 168h1v1h-1zM645 167h2v1h-2zM647 166h1v1h-1zM648 165h1v1h-1zM649 164h2v1h-2zM651 163h1v1h-1zM652 162h1v1h-1zM653 161h2v1h-2zM655 160h1v1h-1zM656 159h1v1h-1zM657 158h2v1h-2zM659 157h1v1h-1zM660 156h1v1h-1zM661 155h2v1h-2zM663 154h2v1h-2zM665 153h1v1h-1zM666 152h2v1h-2zM668 151h2v1h-2zM670 150h3v1h-3zM673 149h2v1h-2zM675 148h3v1h-3zM678 147h2v1h-2zM680 146h2v1h-2zM682 145h2v1h-2zM684 144h2v1h-2zM686 143h3v1h-3zM689 142h2v1h-2zM691 141h3v1h-3zM694 140h3v1h-3zM697 139h2v1h-2zM699 138h3v1h-3zM702 137h2v1h-2zM704 136h2v1h-2zM706 135h2v1h-2zM708 134h2v1h-2zM710 133h3v1h-3zM713 132h2v1h-2zM715 131h6v1h-6zM721 130h24v1h-24zM745 129h8v1h-8zM753 128h16v1h-16zM769 129h16v1h-16zM785 128h6v1h-6zM791 127h4v1h-4zM795 126h4v1h-4zM799 125h4v1h-4zM803 124h6v1h-6zM809 123h8v1h-8zM817 122h30v1h-30zM847 123h4v1h-4zM851 124h3v1h-3zM854 125h2v1h-2zM856 126h2v1h-2zM858 127h2v1h-2zM860 128h2v1h-2zM862 129h3v1h-3zM865 130h2v1h-2zM867 131h3v1h-3zM870 132h3v1h-3zM873 133h2v1h-2zM875 134h3v1h-3zM878 135h3v1h-3zM881 136h2v1h-2zM883 137h4v1h-4zM887 138h4v1h-4zM891 139h4v1h-4zM895 140h4v1h-4zM899 141h6v1h-6zM905 142h6v1h-6zM911 143h4v1h-4zM915 144h6v1h-6zM921 145h5v1h-5zM926 146h3v1h-3zM929 147h2v1h-2zM931 148h3v1h-3zM934 149h3v1h-3zM937 150h2v1h-2zM939 151h4v1h-4zM943 152h4v1h-4zM947 153h3v1h-3zM950 154h3v1h-3zM953 155h2v1h-2zM955 156h6v1h-6zM961 157h8v1h-8zM969 158h16v1h-16zM985 159h16v1h-16zM1001 160h13v1h-13zM1014 161h3v1h-3zM1017 162h2v1h-2zM1019 163h6v1h-6zM1025 164h5v1h-5zM1030 165h3v1h-3zM1033 166h2v1h-2zM1035 167h6v1h-6zM1041 168h46v1h-46zM1087 167h4v1h-4zM1091 166h6v1h-6zM1097 165h8v1h-8zM1105 164h8v1h-8zM1113 163h16v1h-16zM1129 162h32v1h-32zM1161 161h8v1h-8zM1169 160h5v1h-5zM1174 159h3v1h-3zM1177 158h2v1h-2zM1179 157h6v1h-6zM1185 156h24v1h-24zM1209 155h8v1h-8zM1217 154h16v1h-16zM1233 153h8v1h-8zM1241 152h6v1h-6zM1247 151h4v1h-4zM1251 150h4v1h-4zM1255 149h4v1h-4zM1259 148h2v1h-2z" fill="#0000cd"/>
<path d="M4 573h2v1h-2zM6 572h2v1h-2zM8 571h2v1h-2zM10 570h2v1h-2zM12 569h2v1h-2zM14 568h3v1h-3zM17 567h2v1h-2zM19 566h4v1h-4zM23 565h4v1h-4zM27 564h4v1h-4zM31 563h4v1h-4zM35 562h3v1h-3zM38 561h3v1h-3zM41 560h2v1h-2zM43 559h2v1h-2zM45 558h2v1h-2zM47 557h2v1h-2zM49 556h1v1h-1zM50 555h2v1h-2zM52 554h1v1h-1zM53 553h1v1h-1zM54 552h1v1h-1zM55 551h2v1h-2zM57 550h1v1h-1zM58 549h1v1h-1zM59 548h1v1h-1zM60 547h1v1h-1zM61 546h1v1h-1zM62 545h1v1h-1zM63 544h1v1h-1zM64 543h1v1h-1zM65 542h1v1h-1zM66 541h1v1h-1zM67 540h1v1h-1zM68 539h1v1h-1zM69 538h1v1h-1zM70 537h1v1h-1zM71 536h1v1h-1zM72 534h1v2h-1zM73 533h1v1h-1zM74 532h1v1h-1zM75 531h1v1h-1zM76 530h1v1h-1zM77 528h1v2h-1zM78 527h1v1h-1zM79 526h1v1h-1zM80 524h1v2h-1zM81 523h1v1h-1zM82 522h1v1h-1zM83 520h1v2h-1zM84 519h1v1h-1zM85 517h1v2h-1zM86 516h1v1h-1zM87 514h1v2h-1zM88 513h1v1h-1zM89 511h1v2h-1zM90 510h1v1h-1zM91 508h1v2h-1zM92 507h1v1h-1zM93 505h1v2h-1zM94 504h1v1h-1zM95 503h1v1h-1zM96 501h1v2h-1zM97 500h1v1h-1zM98 499h1v1h-1zM99 497h1v2h-1zM100 496h1v1h-1zM101 494h1v2h-1zM102 493h1v1h-1zM103 491h1v2h-1zM104 490h1v1h-1zM105 488h1v2h-1zM106 487h1v1h-1zM107 485h1v2h-1zM108 484h1v1h-1zM109 482h1v2h-1zM110 481h1v1h-1zM111 480h1v1h-1zM112 478h1v2h-1zM113 477h1v1h-1zM114 476h1v1h-1zM115 474h1v2h-1zM116 473h1v1h-1zM117 471h1v2h-1zM118 470h1v1h-1zM119 469h1v1h-1zM120 467h1v2h-1zM121 466h1v1h-1zM122 465h1v1h-1zM123 463h1v2h-1zM124 462h1v1h-1zM125 460h1v2h-1zM126 459h1v1h-1zM127 457h1v2h-1zM128 456h1v1h-1zM129 454h1v2h-1zM130 453h1v1h-1zM131 451h1v2h-1zM132 450h1v1h-1zM133 448h1v2h-1zM134 446h1v2h-1zM135 444h1v2h-1zM136 443h1v1h-1zM137 441h1v2h-1zM138 439h1v2h-1zM139 437h1v2h-1zM140 435h1v2h-1zM141 433h1v2h-1zM142 431h1v2h-1zM143 429h1v2h-1zM144 427h1v2h-1zM145 425h1v2h-1zM146 423h1v2h-1zM147 421h1v2h-1zM148 420h1v1h-1zM149 418h1v2h-1zM150 416h1v2h-1zM151 415h1v1h-1zM152 413h1v2h-1zM153 412h1v1h-1zM154 410h1v2h-1zM155 408h1v2h-1zM156 407h1v1h-1zM157 406h1v1h-1zM158 405h1v1h-1zM159 404h1v1h-1zM160 402h1v2h-1zM161 401h1v1h-1zM162 400h1v1h-1zM163 399h1v1h-1zM164 398h1v1h-1zM165 397h2v1h-2zM167 396h1v1h-1zM168 395h1v1h-1zM169 394h2v1h-2zM171 393h1v1h-1zM172 392h1v1h-1zM173 391h2v1h-2zM175 390h2v1h-2zM177 389h1v1h-1zM178 388h2v1h-2zM180 387h1v1h-1zM181 386h2v1h-2zM183 385h2v1h-2zM185 384h1v1h-1zM186 383h2v1h-2zM188 382h2v1h-2zM190 381h3v1h-3zM193 380h2v1h-2zM195 379h6v1h-6zM201 378h6v1h-6zM207 379h4v1h-4zM211 380h3v1h-3zM214 381h2v1h-2zM216 382h2v1h-2zM218 383h2v1h-2zM220 384h5v1h-5zM225 385h8v1h-8zM233 384h8v1h-8zM241 385h4v1h-4zM245 386h2v1h-2zM247 387h2v1h-2zM249 388h1v1h-1zM250 389h2v1h-2zM252 390h2v1h-2zM254 391h2v1h-2zM256 392h2v1h-2zM258 393h2v1h-2zM260 394h2v1h-2zM262 395h2v1h-2zM264 396h2v1h-2zM266 397h2v1h-2zM268 398h21v1h-21zM289 399h8v1h-8zM297 400h8v1h-8zM305 399h6v1h-6zM311 398h4v1h-4zM315 397h3v1h-3zM318 396h2v1h-2zM320 395h2v1h-2zM322 394h2v1h-2zM324 393h2v1h-2zM326 392h3v1h-3zM329 391h2v1h-2zM331 390h4v1h-4zM335 389h4v1h-4zM339 388h6v1h-6zM345 389h8v1h-8zM353 388h5v1h-5zM358 387h3v1h-3zM361 386h2v1h-2zM363 385h2v1h-2zM365 384h2v1h-2zM367 383h1v1h-1zM368 382h1v1h-1zM369 381h2v1h-2zM371 380h1v1h-1zM372 379h1v1h-1zM373 378h2v1h-2zM375 377h2v1h-2zM377 376h1v1h-1zM378 375h2v1h-2zM380 374h1v1h-1zM381 373h2v1h-2zM383 372h2v1h-2zM385 371h1v1h-1zM386 370h2v1h-2zM388 369h1v1h-1zM389 368h2v1h-2zM391 367h1v1h-1zM392 366h1v1h-1zM393 365h2v1h-2zM395 364h1v1h-1zM396 363h1v1h-1zM397 362h2v1h-2zM399 361h1v1h-1zM400 360h1v1h-1zM401 359h2v1h-2zM403 358h1v1h-1zM404 357h1v1h-1zM405 356h2v1h-2zM407 355h1v1h-1zM408 354h1v1h-1zM409 353h2v1h-2zM411 352h1v1h-1zM412 351h1v1h-1zM413 350h1v1h-1zM414 349h1v1h-1zM415 348h2v1h-2zM417 347h1v1h-1zM418 346h1v1h-1zM419 345h1v1h-1zM420 344h1v1h-1zM421 343h1v1h-1zM422 342h1v1h-1zM423 341h2v1h-2zM425 340h1v1h-1zM426 339h1v1h-1zM427 338h1v1h-1zM428 337h1v1h-1zM429 336h1v1h-1zM430 335h1v1h-1zM431 334h1v1h-1zM432 332h1v2h-1zM433 331h1v1h-1zM434 330h1v1h-1zM435 329h1v1h-1zM436 328h1v1h-1zM437 326h1v2h-1zM438 325h1v1h-1zM439 323h1v2h-1zM440 322h1v1h-1zM441 320h1v2h-1zM442 319h1v1h-1zM443 317h1v2h-1zM444 316h1v1h-1zM445 315h1v1h-1zM446 313h1v2h-1zM447 312h1v1h-1zM448 311h1v1h-1zM449 310h1v1h-1zM450 308h1v2h-1zM451 307h1v1h-1zM452 306h1v1h-1zM453 304h1v2h-1zM454 303h1v1h-1zM455 302h1v1h-1zM456 300h1v2h-1zM457 299h1v1h-1zM458 298h1v1h-1zM459 296h1v2h-1zM460 295h1v1h-1zM461 293h1v2h-1zM462 291h1v2h-1zM463 289h1v2h-1zM464 288h1v1h-1zM465 286h1v2h-1zM466 284h1v2h-1zM467 282h1v2h-1zM468 281h1v1h-1zM469 279h1v2h-1zM470 277h1v2h-1zM471 275h1v2h-1zM472 273h1v2h-1zM473 271h1v2h-1zM474 269h1v2h-1zM475 267h1v2h-1zM476 266h1v1h-1zM477 264h1v2h-1zM478 263h1v1h-1zM479 261h1v2h-1zM480 260h1v1h-1zM481 258h1v2h-1zM482 257h1v1h-1zM483 255h1v2h-1zM484 254h1v1h-1zM485 252h1v2h-1zM486 250h1v2h-1zM487 249h1v1h-1zM488 247h1v2h-1zM489 246h1v1h-1zM490 244h1v2h-1zM491 242h1v2h-1zM492 241h1v1h-1zM493 239h1v2h-1zM494 237h1v2h-1zM495 236h1v1h-1zM496 234h1v2h-1zM497 233h1v1h-1zM498 231h1v2h-1zM499 229h1v2h-1zM500 228h1v1h-1zM501 226h1v2h-1zM502 225h1v1h-1zM503 223h1v2h-1zM504 222h1v1h-1zM505 220h1v2h-1zM506 219h1v1h-1zM507 217h1v2h-1zM508 216h1v1h-1zM509 215h1v1h-1zM510 213h1v2h-1zM511 212h1v1h-1zM512 211h1v1h-1zM513 210h1v1h-1zM514 208h1v2h-1zM515 207h1v1h-1zM516 206h1v1h-1zM517 205h1v1h-1zM518 204h1v1h-1zM519 203h1v1h-1zM520 201h1v2h-1zM521 200h1v1h-1zM522 199h1v1h-1zM523 198h1v1h-1zM524 196h1v2h-1zM525 194h1v2h-1zM526 192h1v2h-1zM527 190h1v2h-1zM528 188h1v2h-1zM529 186h1v2h-1zM530 184h1v2h-1zM531 182h1v2h-1zM532 181h1v1h-1zM533 179h1v2h-1zM534 178h1v1h-1zM535 177h1v1h-1zM536 175h1v2h-1zM537 174h1v1h-1zM538 173h1v1h-1zM539 171h1v2h-1zM540 170h1v1h-1zM541 169h2v1h-2zM543 168h1v1h-1zM544 167h1v1h-1zM545 166h2v1h-2zM547 165h1v1h-1zM548 164h2v1h-2zM550 163h2v1h-2zM552 162h2v1h-2zM554 161h2v1h-2zM556 160h1v1h-1zM557 159h2v1h-2zM559 158h1v1h-1zM560 157h1v1h-1zM561 156h2v1h-2zM563 155h1v1h-1zM564 154h2v1h-2zM566 153h3v1h-3zM569 152h2v1h-2zM571 151h3v1h-3zM574 150h3v1h-3zM577 149h2v1h-2zM579 148h4v1h-4zM583 147h4v1h-4zM587 146h4v1h-4zM591 145h4v1h-4zM595 144h6v1h-6zM601 143h6v1h-6zM607 142h4v1h-4zM611 141h2v1h-2zM613 140h2v1h-2zM615 139h2v1h-2zM617 138h1v1h-1zM618 137h2v1h-2zM620 136h2v1h-2zM622 135h2v1h-2zM624 134h2v1h-2zM626 133h2v1h-2zM628 132h2v1h-2zM630 131h2v1h-2zM632 130h2v1h-2zM634 129h2v1h-2zM636 128h1v1h-1zM637 129h2v1h-2zM639 130h2v1h-2zM641 131h1v1h-1zM642 132h2v1h-2zM644 133h2v1h-2zM646 134h3v1h-3zM649 135h2v1h-2zM651 136h4v1h-4zM655 135h4v1h-4zM659 134h6v1h-6zM665 133h8v1h-8zM673 132h6v1h-6zM679 131h4v1h-4zM683 130h3v1h-3zM686 129h2v1h-2zM688 128h2v1h-2zM690 127h2v1h-2zM692 126h2v1h-2zM694 125h2v1h-2zM696 124h2v1h-2zM698 123h2v1h-2zM700 122h2v1h-2zM702 121h3v1h-3zM705 120h2v1h-2zM707 119h3v1h-3zM710 118h3v1h-3zM713 117h2v1h-2zM715 116h4v1h-4zM719 117h4v1h-4zM723 118h3v1h-3zM726 119h3v1h-3zM729 120h2v1h-2zM731 121h6v1h-6zM737 122h8v1h-8zM745 121h8v1h-8zM753 122h16v1h-16zM769 121h8v1h-8zM777 120h8v1h-8zM785 119h22v1h-22zM807 120h4v1h-4zM811 121h3v1h-3zM814 122h3v1h-3zM817 123h2v1h-2zM819 124h2v1h-2zM821 125h2v1h-2zM823 126h2v1h-2zM825 127h1v1h-1zM826 128h2v1h-2zM828 129h11v1h-11zM839 128h4v1h-4zM843 127h2v1h-2zM845 128h2v1h-2zM847 129h2v1h-2zM849 130h1v1h-1zM850 131h2v1h-2zM852 132h2v1h-2zM854 133h2v1h-2zM856 134h2v1h-2zM858 135h2v1h-2zM860 136h2v1h-2zM862 137h2v1h-2zM864 138h2v1h-2zM866 139h2v1h-2zM868 140h2v1h-2zM870 141h2v1h-2zM872 142h2v1h-2zM874 143h2v1h-2zM876 144h1v1h-1zM877 145h2v1h-2zM879 146h1v1h-1zM880 147h1v1h-1zM881 148h2v1h-2zM883 149h1v1h-1zM884 150h1v1h-1zM885 151h1v1h-1zM886 152h1v1h-1zM887 153h1v1h-1zM888 154h1v1h-1zM889 155h1v1h-1zM890 156h1v1h-1zM891 157h1v1h-1zM892 158h1v1h-1zM893 159h2v1h-2zM895 160h2v1h-2zM897 161h1v1h-1zM898 162h2v1h-2zM900 163h2v1h-2zM902 164h2v1h-2zM904 165h2v1h-2zM906 166h2v1h-2zM908 167h2v1h-2zM910 168h2v1h-2zM912 169h2v1h-2zM914 170h2v1h-2zM916 171h2v1h-2zM918 172h3v1h-3zM921 173h2v1h-2zM923 174h2v1h-2zM925 175h2v1h-2zM927 176h1v1h-1zM928 177h1v1h-1zM929 178h2v1h-2zM931 179h1v1h-1zM932 180h2v1h-2zM934 181h3v1h-3zM937 182h2v1h-2zM939 183h3v1h-3zM942 184h3v1h-3zM945 185h2v1h-2zM947 186h4v1h-4zM951 187h4v1h-4zM955 188h6v1h-6zM961 187h5v1h-5zM966 186h3v1h-3zM969 185h2v1h-2zM971 184h3v1h-3zM974 183h2v1h-2zM976 182h2v1h-2zM978 181h2v1h-2zM980 180h2v1h-2zM982 179h2v1h-2zM984 178h2v1h-2zM986 177h2v1h-2zM988 176h1v1h-1zM989 175h2v1h-2zM991 174h1v1h-1zM992 173h1v1h-1zM993 172h2v1h-2zM995 171h1v1h-1zM996 170h2v1h-2zM998 169h2v1h-2zM1000 168h2v1h-2zM1002 167h2v1h-2zM1004 166h2v1h-2zM1006 165h3v1h-3zM1009 164h2v1h-2zM1011 163h14v1h-14zM1025 164h14v1h-14zM1039 163h4v1h-4zM1043 162h3v1h-3zM1046 161h2v1h-2zM1048 160h2v1h-2zM1050 159h2v1h-2zM1052 158h2v1h-2zM1054 157h3v1h-3zM1057 156h2v1h-2zM1059 155h6v1h-6zM1065 154h6v1h-6zM1071 153h4v1h-4zM1075 152h3v1h-3zM1078 151h2v1h-2zM1080 150h2v1h-2zM1082 149h2v1h-2zM1084 148h19v1h-19zM1103 149h4v1h-4zM1107 150h3v1h-3zM1110 151h3v1h-3zM1113 152h2v1h-2zM1115 153h3v1h-3zM1118 154h3v1h-3zM1121 155h2v1h-2zM1123 156h4v1h-4zM1127 157h4v1h-4zM1131 158h4v1h-4zM1135 159h4v1h-4zM1139 160h12v1h-12zM1151 161h4v1h-4zM1155 162h12v1h-12zM1167 161h4v1h-4zM1171 160h14v1h-14zM1185 161h8v1h-8zM1193 162h6v1h-6zM1199 163h4v1h-4zM1203 164h6v1h-6zM1209 165h6v1h-6zM1215 164h4v1h-4zM1219 163h2v1h-2zM1221 162h2v1h-2zM1223 161h1v1h-1zM1224 160h1v1h-1zM1225 159h2v1h-2zM1227 158h1v1h-1zM1228 157h1v1h-1zM1229 156h1v1h-1zM1230 155h1v1h-1zM1231 154h2v1h-2zM1233 153h1v1h-1zM1234 152h1v1h-1zM1235 151h1v1h-1zM1236 150h1v1h-1zM1237 149h1v1h-1zM1238 148h1v1h-1zM1239 147h1v1h-1zM1240 146h1v1h-1zM1241 145h1v1h-1zM1242 144h1v1h-1zM1243 143h1v1h-1zM1244 142h1v1h-1zM1245 141h1v1h-1zM1246 140h1v1h-1zM1247 139h2v1h-2zM1249 138h1v1h-1zM1250 137h1v1h-1zM1251 136h1v1h-1zM1252 135h2v1h-2zM1254 134h3v1h-3zM1257 133h2v1h-2zM1259 132h2v1h-2z" fill="#ff0000"/>
<path d="M4 556h1v1h-1zM5 554h1v2h-1zM6 552h1v2h-1zM7 550h1v2h-1zM8 548h1v2h-1zM9 546h1v2h-1zM10 544h1v2h-1zM11 542h1v2h-1zM12 541h1v1h-1zM13 540h2v1h-2zM15 539h2v1h-2zM17 538h1v1h-1zM18 537h2v1h-2zM20 536h5v1h-5zM25 537h5v1h-5zM30 538h3v1h-3zM33 539h2v1h-2zM35 540h4v1h-4zM39 541h4v1h-4zM43 542h4v1h-4zM47 541h4v1h-4zM51 540h2v1h-2zM52 539h1v1h-1zM53 537h1v2h-1zM54 535h1v2h-1zM55 533h1v2h-1zM56 531h1v2h-1zM57 529h1v2h-1zM58 527h1v2h-1zM59 525h1v2h-1zM60 522h1v3h-1zM61 520h1v2h-1zM62 518h1v2h-1zM63 515h1v3h-1zM64 513h1v2h-1zM65 510h1v3h-1zM66 508h1v2h-1zM67 506h1v2h-1zM68 503h1v3h-1zM69 501h1v2h-1zM70 499h1v2h-1zM71 497h1v2h-1zM72 494h1v3h-1zM73 492h1v2h-1zM74 490h1v2h-1zM75 488h1v2h-1zM76 485h1v3h-1zM77 483h1v2h-1zM78 481h1v2h-1zM79 479h1v2h-1zM80 477h1v2h-1zM81 475h1v2h-1zM82 473h1v2h-1zM83 471h1v2h-1zM84 469h1v2h-1zM85 467h1v2h-1zM86 465h1v2h-1zM87 463h1v2h-1zM88 461h1v2h-1zM89 459h1v2h-1zM90 457h1v2h-1zM91 455h1v2h-1zM92 454h1v1h-1zM93 452h1v2h-1zM94 450h1v2h-1zM95 448h1v2h-1zM96 447h1v1h-1zM97 445h1v2h-1zM98 443h1v2h-1zM99 441h1v2h-1zM100 439h1v2h-1zM101 437h1v2h-1zM102 434h1v3h-1zM103 432h1v2h-1zM104 429h1v3h-1zM105 427h1v2h-1zM106 424h1v3h-1zM107 422h1v2h-1zM108 419h1v3h-1zM109 417h1v2h-1zM110 414h1v3h-1zM111 412h1v2h-1zM112 409h1v3h-1zM113 407h1v2h-1zM114 404h1v3h-1zM115 402h1v2h-1zM116 399h1v3h-1zM117 397h1v2h-1zM118 395h1v2h-1zM119 393h1v2h-1zM120 391h1v2h-1zM121 389h1v2h-1zM122 387h1v2h-1zM123 385h1v2h-1zM124 384h1v1h-1zM125 383h1v1h-1zM126 381h1v2h-1zM127 380h1v1h-1zM128 379h1v1h-1zM129 378h1v1h-1zM130 376h1v2h-1zM131 375h1v1h-1zM132 374h1v1h-1zM133 373h1v1h-1zM134 372h1v1h-1zM135 371h1v1h-1zM136 370h1v1h-1zM137 369h1v1h-1zM138 368h1v1h-1zM139 367h1v1h-1zM140 366h2v1h-2zM142 365h2v1h-2zM144 364h2v1h-2zM146 363h2v1h-2zM148 362h1v1h-1zM149 361h2v1h-2zM151 360h1v1h-1zM152 359h1v1h-1zM153 358h2v1h-2zM155 357h1v1h-1zM156 356h2v1h-2zM158 357h3v1h-3zM161 358h2v1h-2zM163 359h2v1h-2zM165 360h2v1h-2zM167 361h2v1h-2zM169 362h1v1h-1zM170 363h2v1h-2zM172 364h1v1h-1zM173 365h1v1h-1zM174 366h1v1h-1zM175 367h1v1h-1zM176 368h1v1h-1zM177 369h1v1h-1zM178 370h1v1h-1zM179 371h1v1h-1zM180 372h1v1h-1zM181 373h1v1h-1zM182 374h1v2h-1zM183 376h1v1h-1zM184 377h1v1h-1zM185 378h1v1h-1zM186 379h1v2h-1zM187 381h1v1h-1zM188 382h1v1h-1zM189 383h1v2h-1zM190 385h1v1h-1zM191 386h1v2h-1zM192 388h1v1h-1zM193 389h1v2h-1zM194 391h1v1h-1zM195 392h1v2h-1zM196 394h2v1h-2zM198 395h2v1h-2zM200 396h2v1h-2zM202 397h2v1h-2zM204 398h2v1h-2zM206 399h3v1h-3zM209 400h2v1h-2zM211 401h2v1h-2zM213 402h1v1h-1zM214 403h1v1h-1zM215 404h1v1h-1zM216 405h1v2h-1zM217 407h1v1h-1zM218 408h1v1h-1zM219 409h1v1h-1zM220 410h9v1h-9zM229 409h1v1h-1zM230 407h1v2h-1zM231 406h1v1h-1zM232 405h1v1h-1zM233 404h1v1h-1zM234 402h1v2h-1zM235 401h1v1h-1zM236 400h2v1h-2zM238 399h2v1h-2zM240 398h2v1h-2zM242 397h2v1h-2zM244 396h1v1h-1zM245 395h2v1h-2zM247 394h2v1h-2zM249 393h1v1h-1zM250 392h2v1h-2zM252 391h5v1h-5zM257 390h5v1h-5zM262 391h3v1h-3zM265 392h2v1h-2zM267 393h2v1h-2zM269 394h2v1h-2zM271 395h1v1h-1zM272 396h1v1h-1zM273 397h2v1h-2zM275 398h1v1h-1zM276 399h2v1h-2zM278 400h3v1h-3zM281 401h2v1h-2zM283 402h3v1h-3zM286 401h2v1h-2zM288 400h2v1h-2zM290 399h2v1h-2zM292 398h5v1h-5zM297 397h8v1h-8zM305 396h12v1h-12zM317 395h2v1h-2zM319 394h1v1h-1zM320 393h1v1h-1zM321 392h2v1h-2zM323 391h1v1h-1zM324 390h2v1h-2zM326 389h2v1h-2zM328 388h2v1h-2zM330 387h2v1h-2zM332 386h1v1h-1zM333 385h1v1h-1zM334 384h1v1h-1zM335 383h1v1h-1zM336 382h1v1h-1zM337 381h1v1h-1zM338 380h1v1h-1zM339 379h1v1h-1zM340 378h1v1h-1zM341 377h2v1h-2zM343 376h1v1h-1zM344 375h1v1h-1zM345 374h2v1h-2zM347 373h1v1h-1zM348 372h1v1h-1zM349 371h2v1h-2zM351 370h1v1h-1zM352 369h1v1h-1zM353 368h2v1h-2zM355 367h1v1h-1zM356 366h5v1h-5zM361 367h4v1h-4zM365 366h1v1h-1zM366 365h1v1h-1zM367 364h2v1h-2zM369 363h1v1h-1zM370 362h1v1h-1zM371 361h1v1h-1zM372 360h1v1h-1zM373 359h1v1h-1zM374 358h1v1h-1zM375 357h2v1h-2zM377 356h1v1h-1zM378 355h1v1h-1zM379 354h1v1h-1zM380 353h1v1h-1zM381 351h1v2h-1zM382 350h1v1h-1zM383 349h1v1h-1zM384 347h1v2h-1zM385 346h1v1h-1zM386 345h1v1h-1zM387 343h1v2h-1zM388 342h1v1h-1zM389 341h1v1h-1zM390 340h1v1h-1zM391 339h1v1h-1zM392 337h1v2h-1zM393 336h1v1h-1zM394 335h1v1h-1zM395 334h1v1h-1zM396 333h1v1h-1zM397 331h1v2h-1zM398 329h1v2h-1zM399 328h1v1h-1zM400 326h1v2h-1zM401 325h1v1h-1zM402 323h1v2h-1zM403 321h1v2h-1zM404 320h1v1h-1zM405 319h2v1h-2zM407 318h2v1h-2zM409 317h1v1h-1zM410 316h2v1h-2zM412 315h2v1h-2zM414 314h2v1h-2zM416 313h2v1h-2zM418 312h2v1h-2zM420 311h1v1h-1zM421 310h1v1h-1zM422 309h1v1h-1zM423 308h2v1h-2zM425 307h1v1h-1zM426 306h1v1h-1zM427 305h1v1h-1zM428 303h1v2h-1zM429 301h1v2h-1zM430 299h1v2h-1zM431 297h1v2h-1zM432 295h1v2h-1zM433 293h1v2h-1zM434 291h1v2h-1zM435 289h1v2h-1zM436 287h1v2h-1zM437 285h1v2h-1zM438 283h1v2h-1zM439 281h1v2h-1zM440 278h1v3h-1zM441 276h1v2h-1zM442 274h1v2h-1zM443 272h1v2h-1zM444 269h1v3h-1zM445 267h1v2h-1zM446 265h1v2h-1zM447 263h1v2h-1zM448 260h1v3h-1zM449 258h1v2h-1zM450 256h1v2h-1zM451 254h1v2h-1zM452 251h1v3h-1zM453 249h1v2h-1zM454 247h1v2h-1zM455 245h1v2h-1zM456 243h1v2h-1zM457 241h1v2h-1zM458 239h1v2h-1zM459 237h1v2h-1zM460 235h1v2h-1zM461 232h1v3h-1zM462 230h1v2h-1zM463 227h1v3h-1zM464 224h1v3h-1zM465 221h1v3h-1zM466 219h1v2h-1zM467 216h1v3h-1zM468 214h1v2h-1zM469 212h1v2h-1zM470 210h1v2h-1zM471 208h1v2h-1zM472 207h1v1h-1zM473 205h1v2h-1zM474 203h1v2h-1zM475 201h1v2h-1zM476 200h1v1h-1zM477 198h1v2h-1zM478 197h1v1h-1zM479 195h1v2h-1zM480 194h1v1h-1zM481 192h1v2h-1zM482 191h1v1h-1zM483 189h1v2h-1zM484 188h1v1h-1zM485 186h1v2h-1zM486 185h1v1h-1zM487 183h1v2h-1zM488 182h1v1h-1zM489 180h1v2h-1zM490 179h1v1h-1zM491 177h1v2h-1zM492 175h1v2h-1zM493 173h1v2h-1zM494 171h1v2h-1zM495 168h1v3h-1zM496 166h1v2h-1zM497 163h1v3h-1zM498 161h1v2h-1zM499 159h1v2h-1zM500 157h1v2h-1zM501 157h1v1h-1zM502 156h2v1h-2zM504 155h2v1h-2zM506 154h2v1h-2zM508 153h5v1h-5zM513 152h8v1h-8zM521 151h4v1h-4zM525 150h1v1h-1zM526 149h1v1h-1zM527 148h1v1h-1zM528 146h1v2h-1zM529 145h1v1h-1zM530 144h1v1h-1zM531 143h1v1h-1zM532 142h3v1h-3zM535 141h4v1h-4zM539 140h12v1h-12zM551 139h4v1h-4zM555 138h6v1h-6zM561 139h4v1h-4zM565 140h1v2h-1zM566 142h1v1h-1zM567 143h1v1h-1zM568 144h1v2h-1zM569 146h1v1h-1zM570 147h1v1h-1zM571 148h1v2h-1zM572 150h1v1h-1zM573 151h2v1h-2zM575 152h1v1h-1zM576 153h1v1h-1zM577 154h2v1h-2zM579 155h1v1h-1zM580 156h1v1h-1zM581 155h2v1h-2zM583 154h2v1h-2zM585 153h1v1h-1zM586 152h2v1h-2zM588 151h2v1h-2zM590 150h2v1h-2zM592 149h2v1h-2zM594 148h2v1h-2zM596 147h1v1h-1zM597 146h1v1h-1zM598 145h1v1h-1zM599 144h2v1h-2zM601 143h1v1h-1zM602 142h1v1h-1zM603 141h1v1h-1zM604 140h1v1h-1zM605 139h1v1h-1zM606 138h1v1h-1zM607 137h1v1h-1zM608 135h1v2h-1zM609 134h1v1h-1zM610 133h1v1h-1zM611 132h1v1h-1zM612 131h1v1h-1zM613 129h1v2h-1zM614 128h1v1h-1zM615 126h1v2h-1zM616 125h1v1h-1zM617 123h1v2h-1zM618 122h1v1h-1zM619 120h1v2h-1zM620 119h1v1h-1zM621 118h1v1h-1zM622 117h1v1h-1zM623 116h1v1h-1zM624 114h1v2h-1zM625 113h1v1h-1zM626 112h1v1h-1zM627 111h1v1h-1zM628 110h5v1h-5zM633 109h4v1h-4zM637 110h2v1h-2zM639 111h2v1h-2zM641 112h1v1h-1zM642 113h2v1h-2zM644 114h1v1h-1zM645 115h1v1h-1zM646 116h1v1h-1zM647 117h1v1h-1zM648 118h1v1h-1zM649 119h1v1h-1zM650 120h1v1h-1zM651 121h1v1h-1zM652 122h1v1h-1zM653 123h1v2h-1zM654 125h1v1h-1zM655 126h1v1h-1zM656 127h1v2h-1zM657 129h1v1h-1zM658 130h1v1h-1zM659 131h1v2h-1zM660 133h1v1h-1zM661 134h1v1h-1zM662 135h1v1h-1zM663 136h1v1h-1zM664 137h1v1h-1zM665 138h1v1h-1zM666 139h1v1h-1zM667 140h1v1h-1zM668 141h2v1h-2zM670 142h3v1h-3zM673 143h2v1h-2zM675 144h3v1h-3zM678 143h2v1h-2zM680 142h2v1h-2zM682 141h2v1h-2zM684 140h1v1h-1zM685 139h1v1h-1zM686 138h1v1h-1zM687 137h1v1h-1zM688 135h1v2h-1zM689 134h1v1h-1zM690 133h1v1h-1zM691 132h1v1h-1zM692 131h1v1h-1zM693 130h1v1h-1zM694 128h1v2h-1zM695 127h1v1h-1zM696 126h1v1h-1zM697 125h1v1h-1zM698 123h1v2h-1zM699 122h1v1h-1zM700 121h1v1h-1zM701 119h1v2h-1zM702 117h1v2h-1zM703 116h1v1h-1zM704 114h1v2h-1zM705 113h1v1h-1zM706 111h1v2h-1zM707 109h1v2h-1zM708 108h1v1h-1zM709 107h1v1h-1zM710 105h1v2h-1zM711 104h1v1h-1zM712 103h1v1h-1zM713 102h1v1h-1zM714 100h1v2h-1zM715 99h1v1h-1zM716 98h5v1h-5zM721 97h4v1h-4zM725 98h2v1h-2zM727 99h2v1h-2zM729 100h1v1h-1zM730 101h2v1h-2zM732 102h1v1h-1zM733 103h2v1h-2zM735 104h1v1h-1zM736 105h1v1h-1zM737 106h2v1h-2zM739 107h1v1h-1zM740 108h1v1h-1zM741 109h1v1h-1zM742 110h1v1h-1zM743 111h1v1h-1zM744 112h1v1h-1zM745 113h1v1h-1zM746 114h1v1h-1zM747 115h1v1h-1zM748 116h1v1h-1zM749 117h1v2h-1zM750 119h1v1h-1zM751 120h1v2h-1zM752 122h1v1h-1zM753 123h1v2h-1zM754 125h1v1h-1zM755 126h1v2h-1zM756 128h1v1h-1zM757 129h2v1h-2zM759 130h1v1h-1zM760 131h1v1h-1zM761 132h2v1h-2zM763 133h1v1h-1zM764 134h3v1h-3zM767 135h4v1h-4zM771 136h2v1h-2zM773 135h2v1h-2zM775 134h1v1h-1zM776 133h1v1h-1zM777 132h2v1h-2zM779 131h1v1h-1zM780 130h2v1h-2zM782 131h3v1h-3zM785 132h2v1h-2zM787 133h4v1h-4zM791 132h4v1h-4zM795 131h2v1h-2zM797 130h1v1h-1zM798 129h1v1h-1zM799 128h2v1h-2zM801 127h1v1h-1zM802 126h1v1h-1zM803 125h1v1h-1zM804 124h2v1h-2zM806 123h2v1h-2zM808 122h2v1h-2zM810 121h2v1h-2zM812 120h2v1h-2zM814 121h2v1h-2zM816 122h2v1h-2zM818 123h2v1h-2zM820 124h3v1h-3zM823 125h4v1h-4zM827 126h4v1h-4zM831 125h4v1h-4zM835 124h4v1h-4zM839 125h4v1h-4zM843 126h2v1h-2zM845 127h1v1h-1zM846 128h1v1h-1zM847 129h1v1h-1zM848 130h1v1h-1zM849 131h1v1h-1zM850 132h1v1h-1zM851 133h1v1h-1zM852 134h1v1h-1zM853 135h1v2h-1zM854 137h1v1h-1zM855 138h1v1h-1zM856 139h1v2h-1zM857 141h1v1h-1zM858 142h1v1h-1zM859 143h1v2h-1zM860 145h1v1h-1zM861 146h1v2h-1zM862 148h1v2h-1zM863 150h1v1h-1zM864 151h1v2h-1zM865 153h1v1h-1zM866 154h1v2h-1zM867 156h1v2h-1zM868 158h1v2h-1zM869 160h1v2h-1zM870 162h1v2h-1zM871 164h1v2h-1zM872 166h1v2h-1zM873 168h1v2h-1zM874 170h1v2h-1zM875 172h1v2h-1zM876 174h1v2h-1zM877 176h1v3h-1zM878 179h1v2h-1zM879 181h1v3h-1zM880 184h1v3h-1zM881 187h1v3h-1zM882 190h1v2h-1zM883 192h1v3h-1zM884 195h1v2h-1zM885 197h1v2h-1zM886 199h1v2h-1zM887 201h1v1h-1zM888 202h1v2h-1zM889 204h1v1h-1zM890 205h1v2h-1zM891 207h1v2h-1zM892 209h2v1h-2zM894 210h3v1h-3zM897 211h2v1h-2zM899 212h3v1h-3zM902 211h3v1h-3zM905 210h2v1h-2zM907 209h2v1h-2zM909 208h2v1h-2zM911 207h2v1h-2zM913 206h1v1h-1zM914 205h2v1h-2zM916 204h1v1h-1zM917 203h1v1h-1zM918 201h1v2h-1zM919 200h1v1h-1zM920 199h1v1h-1zM921 198h1v1h-1zM922 196h1v2h-1zM923 195h1v1h-1zM924 194h1v1h-1zM925 193h1v1h-1zM926 192h1v1h-1zM927 191h1v1h-1zM928 190h1v1h-1zM929 189h1v1h-1zM930 188h1v1h-1zM931 187h1v1h-1zM932 186h1v1h-1zM933 185h2v1h-2zM935 184h1v1h-1zM936 183h1v1h-1zM937 182h2v1h-2zM939 181h1v1h-1zM940 180h1v1h-1zM941 179h2v1h-2zM943 178h1v1h-1zM944 177h1v1h-1zM945 176h2v1h-2zM947 175h1v1h-1zM948 174h2v1h-2zM950 173h2v1h-2zM952 172h2v1h-2zM954 171h2v1h-2zM956 170h2v1h-2zM958 169h2v1h-2zM960 168h2v1h-2zM962 167h2v1h-2zM964 166h2v1h-2zM966 165h2v1h-2zM968 164h2v1h-2zM970 163h2v1h-2zM972 162h1v1h-1zM973 161h1v1h-1zM974 160h1v1h-1zM975 159h1v1h-1zM976 158h1v1h-1zM977 157h1v1h-1zM978 156h1v1h-1zM979 155h1v1h-1zM980 154h2v1h-2zM982 153h2v1h-2zM984 152h2v1h-2zM986 151h2v1h-2zM988 150h2v1h-2zM990 149h3v1h-3zM993 148h2v1h-2zM995 147h3v1h-3zM998 148h3v1h-3zM1001 149h2v1h-2zM1003 150h10v1h-10zM1013 151h1v1h-1zM1014 152h1v2h-1zM1015 154h1v1h-1zM1016 155h1v1h-1zM1017 156h1v1h-1zM1018 157h1v2h-1zM1019 159h1v1h-1zM1020 160h1v1h-1zM1021 161h1v1h-1zM1022 162h1v1h-1zM1023 163h1v1h-1zM1024 164h1v1h-1zM1025 165h1v1h-1zM1026 166h1v1h-1zM1027 167h1v1h-1zM1028 168h1v1h-1zM1029 169h1v1h-1zM1030 170h1v2h-1zM1031 172h1v1h-1zM1032 173h1v1h-1zM1033 174h1v1h-1zM1034 175h1v2h-1zM1035 177h1v1h-1zM1036 178h2v1h-2zM1038 177h2v1h-2zM1040 176h2v1h-2zM1042 175h2v1h-2zM1044 174h1v1h-1zM1045 173h1v1h-1zM1046 172h1v1h-1zM1047 171h1v1h-1zM1048 169h1v2h-1zM1049 168h1v1h-1zM1050 167h1v1h-1zM1051 166h1v1h-1zM1052 165h1v1h-1zM1053 163h1v2h-1zM1054 161h1v2h-1zM1055 160h1v1h-1zM1056 158h1v2h-1zM1057 157h1v1h-1zM1058 155h1v2h-1zM1059 153h1v2h-1zM1060 152h1v1h-1zM1061 151h1v1h-1zM1062 149h1v2h-1zM1063 148h1v1h-1zM1064 147h1v1h-1zM1065 146h1v1h-1zM1066 144h1v2h-1zM1067 143h1v1h-1zM1068 142h1v1h-1zM1069 141h1v1h-1zM1070 139h1v2h-1zM1071 138h1v1h-1zM1072 137h1v1h-1zM1073 136h1v1h-1zM1074 134h1v2h-1zM1075 133h1v1h-1zM1076 132h1v1h-1zM1077 131h1v1h-1zM1078 130h1v1h-1zM1079 129h2v1h-2zM1081 128h1v1h-1zM1082 127h1v1h-1zM1083 126h1v1h-1zM1084 125h5v1h-5zM1089 126h5v1h-5zM1094 127h3v1h-3zM1097 128h2v1h-2zM1099 129h2v1h-2zM1101 130h2v1h-2zM1103 131h2v1h-2zM1105 132h1v1h-1zM1106 133h2v1h-2zM1108 134h1v2h-1zM1109 136h1v2h-1zM1110 138h1v2h-1zM1111 140h1v2h-1zM1112 142h1v2h-1zM1113 144h1v2h-1zM1114 146h1v2h-1zM1115 148h1v2h-1zM1116 150h1v3h-1zM1117 153h1v2h-1zM1118 155h1v3h-1zM1119 158h1v2h-1zM1120 160h1v3h-1zM1121 163h1v2h-1zM1122 165h1v3h-1zM1123 168h1v2h-1zM1124 170h1v3h-1zM1125 173h1v2h-1zM1126 175h1v2h-1zM1127 177h1v2h-1zM1128 179h1v2h-1zM1129 181h1v2h-1zM1130 183h1v2h-1zM1131 185h1v2h-1zM1132 187h1v2h-1zM1133 189h1v2h-1zM1134 191h1v2h-1zM1135 193h1v2h-1zM1136 195h1v2h-1zM1137 197h1v2h-1zM1138 199h1v2h-1zM1139 201h1v2h-1zM1140 203h2v1h-2zM1142 204h3v1h-3zM1145 205h2v1h-2zM1147 206h2v1h-2zM1149 205h2v1h-2zM1151 204h2v1h-2zM1153 203h1v1h-1zM1154 202h2v1h-2zM1156 200h1v2h-1zM1157 198h1v2h-1zM1158 196h1v2h-1zM1159 194h1v2h-1zM1160 192h1v2h-1zM1161 190h1v2h-1zM1162 188h1v2h-1zM1163 186h1v2h-1zM1164 184h1v2h-1zM1165 182h1v2h-1zM1166 179h1v3h-1zM1167 176h1v3h-1zM1168 174h1v2h-1zM1169 171h1v3h-1zM1170 168h1v3h-1zM1171 166h1v2h-1zM1172 163h1v3h-1zM1173 161h1v2h-1zM1174 158h1v3h-1zM1175 156h1v2h-1zM1176 153h1v3h-1zM1177 151h1v2h-1zM1178 148h1v3h-1zM1179 146h1v2h-1zM1180 144h1v2h-1zM1181 143h1v1h-1zM1182 141h1v2h-1zM1183 140h1v1h-1zM1184 139h1v1h-1zM1185 138h1v1h-1zM1186 136h1v2h-1zM1187 135h1v1h-1zM1188 134h1v1h-1zM1189 133h1v1h-1zM1190 131h1v2h-1zM1191 130h1v1h-1zM1192 129h1v1h-1zM1193 128h1v1h-1zM1194 126h1v2h-1zM1195 125h1v1h-1zM1196 124h1v1h-1zM1197 125h2v1h-2zM1199 126h1v1h-1zM1200 127h1v1h-1zM1201 128h2v1h-2zM1203 129h1v1h-1zM1204 130h2v1h-2zM1206 131h2v1h-2zM1208 132h2v1h-2zM1210 133h2v1h-2zM1212 134h1v1h-1zM1213 135h2v1h-2zM1215 136h1v1h-1zM1216 137h1v1h-1zM1217 138h2v1h-2zM1219 139h1v1h-1zM1220 140h5v1h-5zM1225 141h6v1h-6zM1231 140h4v1h-4zM1235 139h2v1h-2zM1237 138h1v1h-1zM1238 137h1v1h-1zM1239 136h1v1h-1zM1240 134h1v2h-1zM1241 133h1v1h-1zM1242 132h1v1h-1zM1243 131h1v1h-1zM1244 130h1v1h-1zM1245 129h1v1h-1zM1246 128h1v1h-1zM1247 127h2v1h-2zM1249 126h1v1h-1zM1250 125h1v1h-1zM1251 124h1v1h-1zM1252 123h3v1h-3zM1255 122h4v1h-4zM1259 121h2v1h-2z" fill="#ffa500"/>
<rect x="3" y="52" width="1593" height="2" fill="#ff0000"/>
<rect x="3" y="50" width="6" height="6" fill="#ff0000"/>
<rect x="5" y="52" width="2" height="2" fill="#ffffff"/>
<rect x="1590" y="50" width="6" height="6" fill="#ff0000"/>
<rect x="1592" y="52" width="2" height="2" fill="#ffffff"/>
<rect x="3" y="98" width="1593" height="2" fill="#ff0000"/>
<rect x="3" y="96" width="6" height="6" fill="#ff0000"/>
<rect x="5" y="98" width="2" height="2" fill="#ffffff"/>
<rect x="1590" y="96" width="6" height="6" fill="#ff0000"/>
<rect x="1592" y="98" width="2" height="2" fill="#ffffff"/>
<rect x="3" y="142" width="1593" height="2" fill="#00ff00"/>
<rect x="3" y="140" width="6" height="6" fill="#00ff00"/>
<rect x="5" y="142" width="2" height="2" fill="#ffffff"/>
<rect x="1590" y="140" width="6" height="6" fill="#00ff00"/>
<rect x="1592" y="142" width="2" height="2" fill="#ffffff"/>
<rect x="3" y="188" width="1593" height="2" fill="#0000ff"/>
<rect x="3" y="186" width="6" height="6" fill="#0000ff"/>
<rect x="5" y="188" width="2" height="2" fill="#ffffff"/>
<rect x="1590" y="186" width="6" height="6" fill="#0000ff"/>
<rect x="1592" y="188" width="2" height="2" fill="#ffffff"/>
<rect x="3" y="233" width="1593" height="2" fill="#0000ff"/>
<rect x="3" y="231" width="6" height="6" fill="#0000ff"/>
<rect x="5" y="233" width="2" height="2" fill="#ffffff"/>
<rect x="1590" y="231" width="6" height="6" fill="#0000ff"/>
<rect x="1592" y="233" width="2" height="2" fill="#ffffff"/>
<rect x="1597" y="47" width="2" height="1" fill="#000000"/>
<rect x="1597" y="80" width="2" height="1" fill="#000000"/>
<rect x="1597" y="113" width="2" height="1" fill="#000000"/>
<rect x="1597" y="146" width="2" height="1" fill="#000000"/>
<rect x="1597" y="179" width="2" height="1" fill="#000000"/>
<rect x="1597" y="212" width="2" height="1" fill="#000000"/>
<rect x="1597" y="245" width="2" height="1" fill="#000000"/>
<rect x="1597" y="278" width="2" height="1" fill="#000000"/>
<rect x="1597" y="311" width="2" height="1" fill="#000000"/>
<rect x="1597" y="344" width="2" height="1" fill="#000000"/>
<rect x="1597" y="377" width="2" height="1" fill="#000000"/>
<rect x="1597" y="410" width="2" height="1" fill="#000000"/>
<rect x="1597" y="443" width="2" height="1" fill="#000000"/>
<rect x="1597" y="476" width="2" height="1" fill="#000000"/>
<rect x="1597" y="509" width="2" height="1" fill="#000000"/>
<rect x="1597" y="542" width="2" height="1" fill="#000000"/>
<rect x="1597" y="575" width="2" height="1" fill="#000000"/>
<rect x="1597" y="582" width="1" height="1" fill="#000000"/>
<rect x="1597" y="611" width="2" height="1" fill="#000000"/>
<rect x="1597" y="651" width="2" height="1" fill="#000000"/>
<rect x="1597" y="680" width="1" height="1" fill="#000000"/>
<rect x="1597" y="686" width="1" height="1" fill="#000000"/>
<rect x="1597" y="757" width="2" height="1" fill="#000000"/>
<rect x="1597" y="783" width="1" height="1" fill="#000000"/>
<line x1="5" y1="611.5" x2="1596" y2="611.5" stroke="#c0c0c0" stroke-width="1" stroke-dasharray="3 3"/>
<line x1="5" y1="651.5" x2="1596" y2="651.5" stroke="#c0c0c0" stroke-width="1" stroke-dasharray="3 3"/>
<path d="M4 620h2v1h-2zM6 621h2v1h-2zM8 622h2v1h-2zM10 623h2v1h-2zM12 624h1v1h-1zM13 625h2v1h-2zM15 626h1v1h-1zM16 627h1v1h-1zM17 628h2v1h-2zM19 629h1v1h-1zM20 630h17v1h-17zM37 629h1v1h-1zM38 628h1v1h-1zM39 627h2v1h-2zM41 626h1v1h-1zM42 625h1v1h-1zM43 624h1v1h-1zM44 623h9v1h-9zM53 622h1v1h-1zM54 621h1v1h-1zM55 620h1v1h-1zM56 619h1v1h-1zM57 618h1v1h-1zM58 617h1v1h-1zM59 616h1v1h-1zM60 615h3v1h-3zM63 614h4v1h-4zM67 613h6v1h-6zM73 614h6v1h-6zM79 613h4v1h-4zM83 612h4v1h-4zM87 611h4v1h-4zM91 610h2v1h-2zM93 609h2v1h-2zM95 608h2v1h-2zM97 607h1v1h-1zM98 606h2v1h-2zM100 605h2v1h-2zM102 604h3v1h-3zM105 603h2v1h-2zM107 602h3v1h-3zM110 603h2v1h-2zM112 604h2v1h-2zM114 605h2v1h-2zM116 606h13v1h-13zM129 607h5v1h-5zM134 606h3v1h-3zM137 605h2v1h-2zM139 604h14v1h-14zM153 603h4v1h-4zM156 604h1v1h-1zM157 605h1v2h-1zM158 607h1v2h-1zM159 609h1v2h-1zM160 611h1v2h-1zM161 613h1v2h-1zM162 615h1v2h-1zM163 617h1v2h-1zM164 619h1v2h-1zM165 620h1v1h-1zM166 621h3v1h-3zM169 622h2v1h-2zM171 623h3v1h-3zM174 622h3v1h-3zM177 621h2v1h-2zM179 620h6v1h-6zM185 621h5v1h-5zM190 622h2v1h-2zM192 623h2v1h-2zM194 624h2v1h-2zM196 625h5v1h-5zM201 626h5v1h-5zM206 627h3v1h-3zM209 628h2v1h-2zM211 629h10v1h-10zM221 628h1v1h-1zM222 627h1v1h-1zM223 626h2v1h-2zM225 625h1v1h-1zM226 624h1v1h-1zM227 623h1v1h-1zM228 622h1v1h-1zM229 621h2v1h-2zM231 620h2v1h-2zM233 619h1v1h-1zM234 618h2v1h-2zM236 617h1v1h-1zM237 618h2v1h-2zM239 619h1v1h-1zM240 620h1v1h-1zM241 621h2v1h-2zM243 622h1v1h-1zM244 623h1v1h-1zM245 624h2v1h-2zM247 625h1v1h-1zM248 626h1v1h-1zM249 627h2v1h-2zM251 628h1v1h-1zM252 629h13v1h-13zM265 628h8v1h-8zM273 627h14v1h-14zM287 626h4v1h-4zM291 625h3v1h-3zM294 626h3v1h-3zM297 627h2v1h-2zM299 628h6v1h-6zM305 627h12v1h-12zM317 626h1v1h-1zM318 625h1v1h-1zM319 624h2v1h-2zM321 623h1v1h-1zM322 622h1v1h-1zM323 621h1v1h-1zM324 620h5v1h-5zM329 621h5v1h-5zM334 620h3v1h-3zM337 619h2v1h-2zM339 618h2v1h-2zM341 619h2v1h-2zM343 620h2v1h-2zM345 621h1v1h-1zM346 622h2v1h-2zM348 623h2v1h-2zM350 622h3v1h-3zM353 621h2v1h-2zM355 620h3v1h-3zM358 621h2v1h-2zM360 622h2v1h-2zM362 623h2v1h-2zM364 624h1v1h-1zM365 623h1v1h-1zM366 622h1v1h-1zM367 621h2v1h-2zM369 620h1v1h-1zM370 619h1v1h-1zM371 618h1v1h-1zM372 617h2v1h-2zM374 616h3v1h-3zM377 615h2v1h-2zM379 614h12v1h-12zM391 613h4v1h-4zM395 612h6v1h-6zM401 611h20v1h-20zM421 610h2v1h-2zM423 609h2v1h-2zM425 608h1v1h-1zM426 607h2v1h-2zM428 606h1v1h-1zM429 605h2v1h-2zM431 604h2v1h-2zM433 603h1v1h-1zM434 602h2v1h-2zM436 601h3v1h-3zM439 600h4v1h-4zM443 599h18v1h-18zM461 598h2v1h-2zM463 597h2v1h-2zM465 596h1v1h-1zM466 595h2v1h-2zM468 594h2v1h-2zM470 595h2v1h-2zM472 596h2v1h-2zM474 597h2v1h-2zM476 598h5v1h-5zM481 597h8v1h-8zM489 596h8v1h-8zM497 595h4v1h-4zM501 596h2v1h-2zM503 597h1v1h-1zM504 598h1v1h-1zM505 599h2v1h-2zM507 600h1v1h-1zM508 601h1v1h-1zM509 602h1v1h-1zM510 603h1v1h-1zM511 604h2v1h-2zM513 605h1v1h-1zM514 606h1v1h-1zM515 607h1v1h-1zM516 608h5v1h-5zM521 607h4v1h-4zM525 606h2v1h-2zM527 605h1v1h-1zM528 604h1v1h-1zM529 603h2v1h-2zM531 602h1v1h-1zM532 601h1v1h-1zM533 602h2v1h-2zM535 603h1v1h-1zM536 604h1v1h-1zM537 605h2v1h-2zM539 606h1v1h-1zM540 607h1v1h-1zM541 608h1v1h-1zM542 609h1v2h-1zM543 611h1v1h-1zM544 612h1v1h-1zM545 613h1v1h-1zM546 614h1v2h-1zM547 616h1v1h-1zM548 617h10v1h-10zM558 618h3v1h-3zM561 619h2v1h-2zM563 620h6v1h-6zM569 619h6v1h-6zM575 618h4v1h-4zM579 617h4v1h-4zM583 616h4v1h-4zM587 615h6v1h-6zM593 614h14v1h-14zM607 613h4v1h-4zM611 612h3v1h-3zM614 611h2v1h-2zM616 610h2v1h-2zM618 609h2v1h-2zM620 608h1v1h-1zM621 609h2v1h-2zM623 610h2v1h-2zM625 611h1v1h-1zM626 612h2v1h-2zM628 613h1v1h-1zM629 614h2v1h-2zM631 615h2v1h-2zM633 616h1v1h-1zM634 617h2v1h-2zM636 618h1v1h-1zM637 619h1v2h-1zM638 621h1v1h-1zM639 622h1v1h-1zM640 623h1v2h-1zM641 625h1v1h-1zM642 626h1v1h-1zM643 627h1v2h-1zM644 629h3v1h-3zM647 628h4v1h-4zM651 627h6v1h-6zM657 626h6v1h-6zM663 625h4v1h-4zM667 624h6v1h-6zM673 625h8v1h-8zM681 624h4v1h-4zM685 623h1v1h-1zM686 622h1v1h-1zM687 621h2v1h-2zM689 620h1v1h-1zM690 619h1v1h-1zM691 618h1v1h-1zM692 617h5v1h-5zM697 618h5v1h-5zM702 617h2v1h-2zM704 616h2v1h-2zM706 615h2v1h-2zM708 614h9v1h-9zM717 615h1v2h-1zM718 617h1v2h-1zM719 619h1v2h-1zM720 621h1v1h-1zM721 622h1v2h-1zM722 624h1v2h-1zM723 626h1v2h-1zM724 628h5v1h-5zM729 629h8v1h-8zM737 630h5v1h-5zM742 629h3v1h-3zM745 628h2v1h-2zM747 627h3v1h-3zM750 628h3v1h-3zM753 629h2v1h-2zM755 630h3v1h-3zM758 631h2v1h-2zM760 632h2v1h-2zM762 633h2v1h-2zM764 634h3v1h-3zM767 633h4v1h-4zM771 632h2v1h-2zM773 631h1v1h-1zM774 630h1v1h-1zM775 629h2v1h-2zM777 628h1v1h-1zM778 627h1v1h-1zM779 626h1v1h-1zM780 625h1v1h-1zM781 626h2v1h-2zM783 627h2v1h-2zM785 628h1v1h-1zM786 629h2v1h-2zM788 630h10v1h-10zM798 629h2v1h-2zM800 628h2v1h-2zM802 627h2v1h-2zM804 626h2v1h-2zM806 627h3v1h-3zM809 628h2v1h-2zM811 629h6v1h-6zM817 630h6v1h-6zM823 631h4v1h-4zM827 632h3v1h-3zM830 631h2v1h-2zM832 630h2v1h-2zM834 629h2v1h-2zM836 628h9v1h-9zM845 629h1v2h-1zM846 631h1v2h-1zM847 633h1v1h-1zM848 634h1v2h-1zM849 636h1v1h-1zM850 637h1v2h-1zM851 639h1v2h-1zM852 641h2v1h-2zM854 642h3v1h-3zM857 643h2v1h-2zM859 644h4v1h-4zM863 645h4v1h-4zM867 646h6v1h-6zM873 647h5v1h-5zM878 648h3v1h-3zM881 649h2v1h-2zM883 650h10v1h-10zM893 649h2v1h-2zM895 648h1v1h-1zM896 647h1v1h-1zM897 646h2v1h-2zM899 645h1v1h-1zM900 644h1v1h-1zM901 643h1v1h-1zM902 642h1v1h-1zM903 641h1v1h-1zM904 640h1v1h-1zM905 639h1v1h-1zM906 638h1v1h-1zM907 637h1v1h-1zM908 636h10v1h-10zM918 635h2v1h-2zM920 634h2v1h-2zM922 633h2v1h-2zM924 632h1v1h-1zM925 633h2v1h-2zM927 634h2v1h-2zM929 635h1v1h-1zM930 636h2v1h-2zM932 637h5v1h-5zM937 636h4v1h-4zM941 635h1v1h-1zM942 634h1v1h-1zM943 633h1v1h-1zM944 632h1v1h-1zM945 631h1v1h-1zM946 630h1v1h-1zM947 629h1v1h-1zM948 628h5v1h-5zM953 629h8v1h-8zM961 630h6v1h-6zM967 631h4v1h-4zM971 632h2v1h-2zM973 631h1v1h-1zM974 630h1v1h-1zM975 629h1v1h-1zM976 628h1v1h-1zM977 627h1v1h-1zM978 626h1v1h-1zM979 625h1v1h-1zM980 624h10v1h-10zM990 625h3v1h-3zM993 626h2v1h-2zM995 627h2v1h-2zM997 628h1v1h-1zM998 629h1v1h-1zM999 630h1v1h-1zM1000 631h1v1h-1zM1001 632h1v1h-1zM1002 633h1v1h-1zM1003 634h1v1h-1zM1004 635h3v1h-3zM1007 634h4v1h-4zM1011 633h2v1h-2zM1013 634h2v1h-2zM1015 635h1v1h-1zM1016 636h1v1h-1zM1017 637h2v1h-2zM1019 638h1v1h-1zM1020 639h2v1h-2zM1022 638h3v1h-3zM1025 637h2v1h-2zM1027 636h10v1h-10zM1037 635h1v1h-1zM1038 634h1v1h-1zM1039 633h1v1h-1zM1040 632h1v1h-1zM1041 631h1v1h-1zM1042 630h1v1h-1zM1043 629h1v1h-1zM1044 628h2v1h-2zM1046 627h2v1h-2zM1048 626h2v1h-2zM1050 625h2v1h-2zM1052 624h2v1h-2zM1054 623h2v1h-2zM1056 622h2v1h-2zM1058 621h2v1h-2zM1060 620h1v1h-1zM1061 621h2v1h-2zM1063 622h1v1h-1zM1064 623h1v1h-1zM1065 624h2v1h-2zM1067 625h1v1h-1zM1068 626h3v1h-3zM1071 625h4v1h-4zM1075 624h4v1h-4zM1079 623h4v1h-4zM1083 622h2v1h-2zM1085 623h2v1h-2zM1087 624h1v1h-1zM1088 625h1v1h-1zM1089 626h2v1h-2zM1091 627h1v1h-1zM1092 628h3v1h-3zM1095 627h4v1h-4zM1099 626h2v1h-2zM1101 627h1v1h-1zM1102 628h1v1h-1zM1103 629h1v1h-1zM1104 630h1v2h-1zM1105 632h1v1h-1zM1106 633h1v1h-1zM1107 634h1v1h-1zM1108 635h1v1h-1zM1109 636h1v1h-1zM1110 637h1v1h-1zM1111 638h1v1h-1zM1112 639h1v1h-1zM1113 640h1v1h-1zM1114 641h1v1h-1zM1115 642h1v1h-1zM1116 643h5v1h-5zM1121 644h16v1h-16zM1137 645h4v1h-4zM1141 643h1v2h-1zM1142 642h1v1h-1zM1143 640h1v2h-1zM1144 639h1v1h-1zM1145 637h1v2h-1zM1146 636h1v1h-1zM1147 634h1v2h-1zM1148 633h3v1h-3zM1151 634h4v1h-4zM1155 635h2v1h-2zM1157 634h1v1h-1zM1158 632h1v2h-1zM1159 631h1v1h-1zM1160 630h1v1h-1zM1161 629h1v1h-1zM1162 627h1v2h-1zM1163 626h1v1h-1zM1164 625h2v1h-2zM1166 624h2v1h-2zM1168 623h2v1h-2zM1170 622h2v1h-2zM1172 621h9v1h-9zM1181 622h2v1h-2zM1183 623h2v1h-2zM1185 624h1v1h-1zM1186 625h2v1h-2zM1188 626h5v1h-5zM1193 627h4v1h-4zM1197 628h2v1h-2zM1199 629h1v1h-1zM1200 630h1v1h-1zM1201 631h2v1h-2zM1203 632h1v1h-1zM1204 633h1v1h-1zM1205 632h2v1h-2zM1207 631h2v1h-2zM1209 630h1v1h-1zM1210 629h2v1h-2zM1212 628h11v1h-11zM1223 627h4v1h-4zM1227 626h11v1h-11zM1238 625h3v1h-3zM1241 624h2v1h-2zM1243 623h11v1h-11zM1254 624h3v1h-3zM1257 625h2v1h-2zM1259 626h2v1h-2z" fill="#1e90ff"/>
<rect x="4" y="756" width="1" height="2" fill="#c0c0c0"/>
<rect x="12" y="753" width="1" height="5" fill="#c0c0c0"/>
<rect x="20" y="753" width="1" height="5" fill="#c0c0c0"/>
<rect x="28" y="753" width="1" height="5" fill="#c0c0c0"/>
<rect x="36" y="754" width="1" height="4" fill="#c0c0c0"/>
<rect x="44" y="751" width="1" height="7" fill="#c0c0c0"/>
<rect x="52" y="749" width="1" height="9" fill="#c0c0c0"/>
<rect x="60" y="743" width="1" height="15" fill="#c0c0c0"/>
<rect x="68" y="738" width="1" height="20" fill="#c0c0c0"/>
<rect x="76" y="734" width="1" height="24" fill="#c0c0c0"/>
<rect x="84" y="730" width="1" height="28" fill="#c0c0c0"/>
<rect x="92" y="726" width="1" height="32" fill="#c0c0c0"/>
<rect x="100" y="720" width="1" height="38" fill="#c0c0c0"/>
<rect x="108" y="712" width="1" height="46" fill="#c0c0c0"/>
<rect x="116" y="708" width="1" height="50" fill="#c0c0c0"/>
<rect x="124" y="705" width="1" height="53" fill="#c0c0c0"/>
<rect x="132" y="704" width="1" height="54" fill="#c0c0c0"/>
<rect x="140" y="701" width="1" height="57" fill="#c0c0c0"/>
<rect x="148" y="700" width="1" height="58" fill="#c0c0c0"/>
<rect x="156" y="698" width="1" height="60" fill="#c0c0c0"/>
<rect x="164" y="702" width="1" height="56" fill="#c0c0c0"/>
<rect x="172" y="707" width="1" height="51" fill="#c0c0c0"/>
<rect x="180" y="710" width="1" height="48" fill="#c0c0c0"/>
<rect x="188" y="713" width="1" height="45" fill="#c0c0c0"/>
<rect x="196" y="718" width="1" height="40" fill="#c0c0c0"/>
<rect x="204" y="722" width="1" height="36" fill="#c0c0c0"/>
<rect x="212" y="727" width="1" height="31" fill="#c0c0c0"/>
<rect x="220" y="731" width="1" height="27" fill="#c0c0c0"/>
<rect x="228" y="732" width="1" height="26" fill="#c0c0c0"/>
<rect x="236" y="730" width="1" height="28" fill="#c0c0c0"/>
<rect x="244" y="732" width="1" height="26" fill="#c0c0c0"/>
<rect x="252" y="735" width="1" height="23" fill="#c0c0c0"/>
<rect x="260" y="738" width="1" height="20" fill="#c0c0c0"/>
<rect x="268" y="740" width="1" height="18" fill="#c0c0c0"/>
<rect x="276" y="741" width="1" height="17" fill="#c0c0c0"/>
<rect x="284" y="742" width="1" height="16" fill="#c0c0c0"/>
<rect x="292" y="743" width="1" height="15" fill="#c0c0c0"/>
<rect x="300" y="744" width="1" height="14" fill="#c0c0c0"/>
<rect x="308" y="745" width="1" height="13" fill="#c0c0c0"/>
<rect x="316" y="746" width="1" height="12" fill="#c0c0c0"/>
<rect x="324" y="744" width="1" height="14" fill="#c0c0c0"/>
<rect x="332" y="744" width="1" height="14" fill="#c0c0c0"/>
<rect x="340" y="742" width="1" height="16" fill="#c0c0c0"/>
<rect x="348" y="743" width="1" height="15" fill="#c0c0c0"/>
<rect x="356" y="741" width="1" height="17" fill="#c0c0c0"/>
<rect x="364" y="742" width="1" height="16" fill="#c0c0c0"/>
<rect x="372" y="740" width="1" height="18" fill="#c0c0c0"/>
<rect x="380" y="737" width="1" height="21" fill="#c0c0c0"/>
<rect x="388" y="735" width="1" height="23" fill="#c0c0c0"/>
<rect x="396" y="732" width="1" height="26" fill="#c0c0c0"/>
<rect x="404" y="731" width="1" height="27" fill="#c0c0c0"/>
<rect x="412" y="729" width="1" height="29" fill="#c0c0c0"/>
<rect x="420" y="729" width="1" height="29" fill="#c0c0c0"/>
<rect x="428" y="726" width="1" height="32" fill="#c0c0c0"/>
<rect x="436" y="721" width="1" height="37" fill="#c0c0c0"/>
<rect x="444" y="716" width="1" height="42" fill="#c0c0c0"/>
<rect x="452" y="712" width="1" height="46" fill="#c0c0c0"/>
<rect x="460" y="710" width="1" height="48" fill="#c0c0c0"/>
<rect x="468" y="704" width="1" height="54" fill="#c0c0c0"/>
<rect x="476" y="700" width="1" height="58" fill="#c0c0c0"/>
<rect x="484" y="697" width="1" height="61" fill="#c0c0c0"/>
<rect x="492" y="694" width="1" height="64" fill="#c0c0c0"/>
<rect x="500" y="691" width="1" height="67" fill="#c0c0c0"/>
<rect x="508" y="691" width="1" height="67" fill="#c0c0c0"/>
<rect x="516" y="693" width="1" height="65" fill="#c0c0c0"/>
<rect x="524" y="695" width="1" height="63" fill="#c0c0c0"/>
<rect x="532" y="692" width="1" height="66" fill="#c0c0c0"/>
<rect x="540" y="693" width="1" height="65" fill="#c0c0c0"/>
<rect x="548" y="696" width="1" height="62" fill="#c0c0c0"/>
<rect x="556" y="700" width="1" height="58" fill="#c0c0c0"/>
<rect x="564" y="704" width="1" height="54" fill="#c0c0c0"/>
<rect x="572" y="708" width="1" height="50" fill="#c0c0c0"/>
<rect x="580" y="710" width="1" height="48" fill="#c0c0c0"/>
<rect x="588" y="712" width="1" height="46" fill="#c0c0c0"/>
<rect x="596" y="713" width="1" height="45" fill="#c0c0c0"/>
<rect x="604" y="714" width="1" height="44" fill="#c0c0c0"/>
<rect x="612" y="714" width="1" height="44" fill="#c0c0c0"/>
<rect x="620" y="712" width="1" height="46" fill="#c0c0c0"/>
<rect x="628" y="713" width="1" height="45" fill="#c0c0c0"/>
<rect x="636" y="715" width="1" height="43" fill="#c0c0c0"/>
<rect x="644" y="721" width="1" height="37" fill="#c0c0c0"/>
<rect x="652" y="725" width="1" height="33" fill="#c0c0c0"/>
<rect x="660" y="729" width="1" height="29" fill="#c0c0c0"/>
<rect x="668" y="731" width="1" height="27" fill="#c0c0c0"/>
<rect x="676" y="733" width="1" height="25" fill="#c0c0c0"/>
<rect x="684" y="735" width="1" height="23" fill="#c0c0c0"/>
<rect x="692" y="733" width="1" height="25" fill="#c0c0c0"/>
<rect x="700" y="733" width="1" height="25" fill="#c0c0c0"/>
<rect x="708" y="729" width="1" height="29" fill="#c0c0c0"/>
<rect x="716" y="729" width="1" height="29" fill="#c0c0c0"/>
<rect x="724" y="732" width="1" height="26" fill="#c0c0c0"/>
<rect x="732" y="736" width="1" height="22" fill="#c0c0c0"/>
<rect x="740" y="739" width="1" height="19" fill="#c0c0c0"/>
<rect x="748" y="741" width="1" height="17" fill="#c0c0c0"/>
<rect x="756" y="743" width="1" height="15" fill="#c0c0c0"/>
<rect x="764" y="747" width="1" height="11" fill="#c0c0c0"/>
<rect x="772" y="749" width="1" height="9" fill="#c0c0c0"/>
<rect x="780" y="748" width="1" height="10" fill="#c0c0c0"/>
<rect x="788" y="749" width="1" height="9" fill="#c0c0c0"/>
<rect x="796" y="750" width="1" height="8" fill="#c0c0c0"/>
<rect x="804" y="749" width="1" height="9" fill="#c0c0c0"/>
<rect x="812" y="750" width="1" height="8" fill="#c0c0c0"/>
<rect x="820" y="751" width="1" height="7" fill="#c0c0c0"/>
<rect x="828" y="752" width="1" height="6" fill="#c0c0c0"/>
<rect x="836" y="752" width="1" height="6" fill="#c0c0c0"/>
<rect x="844" y="752" width="1" height="6" fill="#c0c0c0"/>
<rect x="860" y="757" width="1" height="4" fill="#c0c0c0"/>
<rect x="868" y="757" width="1" height="9" fill="#c0c0c0"/>
<rect x="876" y="757" width="1" height="13" fill="#c0c0c0"/>
<rect x="884" y="757" width="1" height="17" fill="#c0c0c0"/>
<rect x="892" y="757" width="1" height="21" fill="#c0c0c0"/>
<rect x="900" y="757" width="1" height="23" fill="#c0c0c0"/>
<rect x="908" y="757" width="1" height="21" fill="#c0c0c0"/>
<rect x="916" y="757" width="1" height="20" fill="#c0c0c0"/>
<rect x="924" y="757" width="1" height="17" fill="#c0c0c0"/>
<rect x="932" y="757" width="1" height="16" fill="#c0c0c0"/>
<rect x="940" y="757" width="1" height="15" fill="#c0c0c0"/>
<rect x="948" y="757" width="1" height="11" fill="#c0c0c0"/>
<rect x="956" y="757" width="1" height="9" fill="#c0c0c0"/>
<rect x="964" y="757" width="1" height="7" fill="#c0c0c0"/>
<rect x="972" y="757" width="1" height="5" fill="#c0c0c0"/>
<rect x="980" y="757" width="1" height="3" fill="#c0c0c0"/>
<rect x="996" y="756" width="1" height="2" fill="#c0c0c0"/>
<rect x="1020" y="757" width="1" height="4" fill="#c0c0c0"/>
<rect x="1028" y="757" width="1" height="4" fill="#c0c0c0"/>
<rect x="1036" y="757" width="1" height="5" fill="#c0c0c0"/>
<rect x="1044" y="757" width="1" height="2" fill="#c0c0c0"/>
<rect x="1060" y="754" width="1" height="4" fill="#c0c0c0"/>
<rect x="1068" y="752" width="1" height="6" fill="#c0c0c0"/>
<rect x="1076" y="750" width="1" height="8" fill="#c0c0c0"/>
<rect x="1084" y="748" width="1" height="10" fill="#c0c0c0"/>
<rect x="1092" y="749" width="1" height="9" fill="#c0c0c0"/>
<rect x="1100" y="748" width="1" height="10" fill="#c0c0c0"/>
<rect x="1108" y="752" width="1" height="6" fill="#c0c0c0"/>
<rect x="1124" y="757" width="1" height="5" fill="#c0c0c0"/>
<rect x="1132" y="757" width="1" height="9" fill="#c0c0c0"/>
<rect x="1140" y="757" width="1" height="13" fill="#c0c0c0"/>
<rect x="1148" y="757" width="1" height="11" fill="#c0c0c0"/>
<rect x="1156" y="757" width="1" height="11" fill="#c0c0c0"/>
<rect x="1164" y="757" width="1" height="7" fill="#c0c0c0"/>
<rect x="1180" y="754" width="1" height="4" fill="#c0c0c0"/>
<rect x="1188" y="752" width="1" height="6" fill="#c0c0c0"/>
<rect x="1196" y="751" width="1" height="7" fill="#c0c0c0"/>
<rect x="1204" y="753" width="1" height="5" fill="#c0c0c0"/>
<rect x="1212" y="753" width="1" height="5" fill="#c0c0c0"/>
<rect x="1220" y="752" width="1" height="6" fill="#c0c0c0"/>
<rect x="1228" y="751" width="1" height="7" fill="#c0c0c0"/>
<rect x="1236" y="750" width="1" height="8" fill="#c0c0c0"/>
<rect x="1244" y="748" width="1" height="10" fill="#c0c0c0"/>
<rect x="1252" y="746" width="1" height="12" fill="#c0c0c0"/>
<rect x="1260" y="747" width="1" height="11" fill="#c0c0c0"/>
<path d="M4 764h3v1h-3zM10 763h1v1h-1zM11 762h2v1h-2zM16 762h1v1h-1zM17 761h2v1h-2zM22 761h3v1h-3zM28 760h3v1h-3zM34 759h1v1h-1zM35 758h2v1h-2zM40 757h3v1h-3zM46 756h1v1h-1zM47 755h2v1h-2zM52 754h3v1h-3zM58 753h1v1h-1zM59 752h2v1h-2zM64 751h1v1h-1zM65 750h2v1h-2zM70 749h1v1h-1zM71 748h2v1h-2zM76 747h2v1h-2zM78 746h1v1h-1zM82 745h1v1h-1zM83 744h2v1h-2zM88 743h1v1h-1zM89 742h2v1h-2zM94 740h1v1h-1zM95 739h2v1h-2zM100 736h2v1h-2zM102 735h1v1h-1zM106 733h2v1h-2zM108 732h1v1h-1zM112 730h2v1h-2zM114 729h1v1h-1zM118 727h1v1h-1zM119 726h1v1h-1zM120 725h1v1h-1zM124 722h2v1h-2zM126 721h1v1h-1zM130 720h1v1h-1zM131 719h2v1h-2zM136 717h1v1h-1zM137 716h1v1h-1zM138 715h1v1h-1zM142 713h2v1h-2zM144 712h1v1h-1zM148 710h2v1h-2zM150 709h1v1h-1zM154 708h1v1h-1zM155 707h2v1h-2zM160 706h1v1h-1zM161 705h2v1h-2zM166 704h3v1h-3zM172 703h3v1h-3zM178 703h3v1h-3zM184 703h1v1h-1zM185 704h2v1h-2zM190 704h3v1h-3zM196 704h3v1h-3zM202 705h1v1h-1zM203 706h2v1h-2zM208 708h2v1h-2zM210 709h1v1h-1zM214 710h1v1h-1zM215 711h2v1h-2zM220 712h2v1h-2zM222 713h1v1h-1zM226 715h2v1h-2zM228 716h1v1h-1zM232 718h2v1h-2zM234 719h1v1h-1zM238 720h1v1h-1zM239 721h2v1h-2zM244 722h2v1h-2zM246 723h1v1h-1zM250 725h2v1h-2zM252 726h1v1h-1zM256 727h3v1h-3zM262 729h3v1h-3zM268 731h3v1h-3zM274 732h3v1h-3zM280 733h3v1h-3zM286 734h1v1h-1zM287 735h2v1h-2zM292 736h3v1h-3zM298 736h3v1h-3zM304 737h3v1h-3zM310 738h1v1h-1zM311 739h2v1h-2zM316 740h3v1h-3zM322 741h1v1h-1zM323 742h2v1h-2zM328 742h3v1h-3zM334 742h3v1h-3zM340 742h3v1h-3zM346 742h3v1h-3zM352 742h3v1h-3zM358 742h3v1h-3zM364 742h3v1h-3zM370 742h3v1h-3zM376 742h1v1h-1zM377 741h2v1h-2zM382 741h3v1h-3zM388 740h3v1h-3zM394 739h1v1h-1zM395 738h2v1h-2zM400 738h1v1h-1zM401 737h2v1h-2zM406 737h3v1h-3zM412 736h3v1h-3zM418 735h1v1h-1zM419 734h2v1h-2zM424 733h3v1h-3zM430 732h1v1h-1zM431 731h2v1h-2zM436 730h2v1h-2zM438 729h1v1h-1zM442 727h2v1h-2zM444 726h1v1h-1zM448 725h3v1h-3zM454 724h1v1h-1zM455 723h2v1h-2zM460 722h2v1h-2zM462 721h1v1h-1zM466 719h2v1h-2zM468 718h1v1h-1zM472 716h2v1h-2zM474 715h1v1h-1zM478 714h1v1h-1zM479 713h2v1h-2zM484 712h2v1h-2zM486 711h1v1h-1zM490 709h2v1h-2zM492 708h1v1h-1zM496 706h2v1h-2zM498 705h1v1h-1zM502 703h3v1h-3zM508 701h2v1h-2zM510 700h1v1h-1zM514 699h1v1h-1zM515 698h2v1h-2zM520 697h3v1h-3zM526 696h1v1h-1zM527 695h2v1h-2zM532 694h3v1h-3zM538 693h3v1h-3zM544 693h3v1h-3zM550 693h3v1h-3zM556 693h3v1h-3zM562 694h3v1h-3zM568 695h3v1h-3zM574 696h1v1h-1zM575 697h2v1h-2zM580 698h3v1h-3zM586 699h1v1h-1zM587 700h2v1h-2zM592 701h3v1h-3zM598 702h1v1h-1zM599 703h2v1h-2zM604 704h2v1h-2zM606 705h1v1h-1zM610 706h1v1h-1zM611 707h2v1h-2zM616 707h1v1h-1zM617 708h2v1h-2zM622 708h1v1h-1zM623 709h2v1h-2zM628 710h3v1h-3zM634 711h3v1h-3zM640 711h1v1h-1zM641 712h2v1h-2zM646 712h1v1h-1zM647 713h2v1h-2zM652 714h3v1h-3zM658 715h1v1h-1zM659 716h2v1h-2zM664 716h1v1h-1zM665 717h2v1h-2zM670 718h3v1h-3zM676 720h3v1h-3zM682 721h1v1h-1zM683 722h2v1h-2zM688 723h3v1h-3zM694 724h1v1h-1zM695 725h2v1h-2zM700 726h3v1h-3zM706 727h1v1h-1zM707 728h2v1h-2zM712 729h3v1h-3zM718 730h3v1h-3zM724 731h3v1h-3zM730 731h3v1h-3zM736 731h1v1h-1zM737 732h2v1h-2zM742 732h3v1h-3zM748 733h3v1h-3zM754 734h3v1h-3zM760 735h3v1h-3zM766 736h3v1h-3zM772 736h2v1h-2zM774 737h1v1h-1zM778 738h1v1h-1zM779 739h2v1h-2zM784 740h1v1h-1zM785 741h2v1h-2zM790 742h1v1h-1zM791 743h2v1h-2zM796 744h3v1h-3zM802 745h3v1h-3zM808 745h1v1h-1zM809 746h2v1h-2zM814 746h3v1h-3zM820 747h3v1h-3zM826 748h3v1h-3zM832 748h1v1h-1zM833 749h2v1h-2zM838 749h3v1h-3zM844 749h3v1h-3zM850 750h3v1h-3zM856 751h3v1h-3zM862 752h1v1h-1zM863 753h2v1h-2zM868 754h3v1h-3zM874 755h1v1h-1zM875 756h2v1h-2zM880 757h3v1h-3zM886 759h2v1h-2zM888 760h1v1h-1zM892 762h2v1h-2zM894 763h1v1h-1zM898 764h1v1h-1zM899 765h2v1h-2zM904 766h1v1h-1zM905 767h2v1h-2zM910 769h3v1h-3zM916 771h3v1h-3zM922 772h1v1h-1zM923 773h2v1h-2zM928 773h1v1h-1zM929 774h2v1h-2zM934 774h3v1h-3zM940 775h3v1h-3zM946 775h3v1h-3zM952 775h1v1h-1zM953 774h2v1h-2zM958 774h1v1h-1zM959 773h2v1h-2zM964 772h3v1h-3zM970 771h3v1h-3zM976 770h3v1h-3zM982 768h3v1h-3zM988 766h3v1h-3zM994 765h1v1h-1zM995 764h2v1h-2zM1000 763h3v1h-3zM1006 762h3v1h-3zM1012 761h3v1h-3zM1018 760h3v1h-3zM1024 760h1v1h-1zM1025 759h2v1h-2zM1030 759h3v1h-3zM1036 759h3v1h-3zM1042 758h3v1h-3zM1048 758h3v1h-3zM1054 758h3v1h-3zM1060 758h3v1h-3zM1066 758h3v1h-3zM1072 758h1v1h-1zM1073 757h2v1h-2zM1078 757h3v1h-3zM1084 756h3v1h-3zM1090 755h1v1h-1zM1091 754h2v1h-2zM1096 754h1v1h-1zM1097 753h2v1h-2zM1102 753h3v1h-3zM1108 752h3v1h-3zM1114 751h3v1h-3zM1120 751h1v1h-1zM1121 752h2v1h-2zM1126 752h3v1h-3zM1132 753h3v1h-3zM1138 754h1v1h-1zM1139 755h2v1h-2zM1144 756h3v1h-3zM1150 758h3v1h-3zM1156 760h3v1h-3zM1162 761h3v1h-3zM1168 761h1v1h-1zM1169 762h2v1h-2zM1174 762h3v1h-3zM1180 763h3v1h-3zM1186 762h3v1h-3zM1192 761h3v1h-3zM1198 760h3v1h-3zM1204 759h3v1h-3zM1210 758h1v1h-1zM1211 757h2v1h-2zM1216 756h3v1h-3zM1222 755h1v1h-1zM1223 754h2v1h-2zM1228 753h3v1h-3zM1234 752h3v1h-3zM1240 752h1v1h-1zM1241 751h2v1h-2zM1246 751h3v1h-3zM1252 750h3v1h-3zM1258 749h1v1h-1zM1259 748h2v1h-2z" fill="#ff0000"/>
<rect x="4" y="786" width="1" height="3" fill="#000000"/>
<rect x="68" y="786" width="1" height="3" fill="#000000"/>
<rect x="132" y="786" width="1" height="3" fill="#000000"/>
<rect x="196" y="786" width="1" height="3" fill="#000000"/>
<rect x="260" y="786" width="1" height="3" fill="#000000"/>
<rect x="324" y="786" width="1" height="3" fill="#000000"/>
<rect x="388" y="786" width="1" height="3" fill="#000000"/>
<rect x="452" y="786" width="1" height="3" fill="#000000"/>
<rect x="516" y="786" width="1" height="3" fill="#000000"/>
<rect x="580" y="786" width="1" height="3" fill="#000000"/>
<rect x="644" y="786" width="1" height="3" fill="#000000"/>
<rect x="708" y="786" width="1" height="3" fill="#000000"/>
<rect x="772" y="786" width="1" height="3" fill="#000000"/>
<rect x="836" y="786" width="1" height="3" fill="#000000"/>
<rect x="900" y="786" width="1" height="3" fill="#000000"/>
<rect x="964" y="786" width="1" height="3" fill="#000000"/>
<rect x="1028" y="786" width="1" height="3" fill="#000000"/>
<rect x="1092" y="786" width="1" height="3" fill="#000000"/>
<rect x="1156" y="786" width="1" height="3" fill="#000000"/>
<rect x="1220" y="786" width="1" height="3" fill="#000000"/>
</g>
<text x="1602.5" y="50.9" font-size="10.2" fill="#000" stroke="#000" stroke-width="0.2" textLength="32.5" lengthAdjust="spacingAndGlyphs" xml:space="preserve">1.20150</text>
<text x="1602.5" y="83.9" font-size="10.2" fill="#000" stroke="#000" stroke-width="0.2" textLength="32.5" lengthAdjust="spacingAndGlyphs" xml:space="preserve">1.19410</text>
<text x="1602.5" y="116.9" font-size="10.2" fill="#000" stroke="#000" stroke-width="0.2" textLength="32.5" lengthAdjust="spacingAndGlyphs" xml:space="preserve">1.18690</text>
<text x="1602.5" y="149.9" font-size="10.2" fill="#000" stroke="#000" stroke-width="0.2" textLength="32.5" lengthAdjust="spacingAndGlyphs" xml:space="preserve">1.17950</text>
<text x="1602.5" y="182.9" font-size="10.2" fill="#000" stroke="#000" stroke-width="0.2" textLength="32.5" lengthAdjust="spacingAndGlyphs" xml:space="preserve">1.17230</text>
<text x="1602.5" y="215.9" font-size="10.2" fill="#000" stroke="#000" stroke-width="0.2" textLength="32.5" lengthAdjust="spacingAndGlyphs" xml:space="preserve">1.16490</text>
<text x="1602.5" y="248.9" font-size="10.2" fill="#000" stroke="#000" stroke-width="0.2" textLength="32.5" lengthAdjust="spacingAndGlyphs" xml:space="preserve">1.15770</text>
<text x="1602.5" y="281.9" font-size="10.2" fill="#000" stroke="#000" stroke-width="0.2" textLength="32.5" lengthAdjust="spacingAndGlyphs" xml:space="preserve">1.15030</text>
<text x="1602.5" y="314.9" font-size="10.2" fill="#000" stroke="#000" stroke-width="0.2" textLength="32.5" lengthAdjust="spacingAndGlyphs" xml:space="preserve">1.14310</text>
<text x="1602.5" y="347.9" font-size="10.2" fill="#000" stroke="#000" stroke-width="0.2" textLength="32.5" lengthAdjust="spacingAndGlyphs" xml:space="preserve">1.13570</text>
<text x="1602.5" y="380.9" font-size="10.2" fill="#000" stroke="#000" stroke-width="0.2" textLength="32.5" lengthAdjust="spacingAndGlyphs" xml:space="preserve">1.12850</text>
<text x="1602.5" y="413.9" font-size="10.2" fill="#000" stroke="#000" stroke-width="0.2" textLength="32.5" lengthAdjust="spacingAndGlyphs" xml:space="preserve">1.12110</text>
<text x="1602.5" y="446.9" font-size="10.2" fill="#000" stroke="#000" stroke-width="0.2" textLength="32.5" lengthAdjust="spacingAndGlyphs" xml:space="preserve">1.11390</text>
<text x="1602.5" y="479.9" font-size="10.2" fill="#000" stroke="#000" stroke-width="0.2" textLength="32.5" lengthAdjust="spacingAndGlyphs" xml:space="preserve">1.10650</text>
<text x="1602.5" y="512.9" font-size="10.2" fill="#000" stroke="#000" stroke-width="0.2" textLength="32.5" lengthAdjust="spacingAndGlyphs" xml:space="preserve">1.09930</text>
<text x="1602.5" y="545.9" font-size="10.2" fill="#000" stroke="#000" stroke-width="0.2" textLength="32.5" lengthAdjust="spacingAndGlyphs" xml:space="preserve">1.09190</text>
<text x="1602.5" y="578.9" font-size="10.2" fill="#000" stroke="#000" stroke-width="0.2" textLength="32.5" lengthAdjust="spacingAndGlyphs" xml:space="preserve">1.08470</text>
<g shape-rendering="crispEdges">
<rect x="1598" y="47" width="41" height="11" fill="#ff0000"/>
<rect x="1598" y="93" width="41" height="11" fill="#ff0000"/>
<rect x="1598" y="137" width="41" height="11" fill="#00ff00"/>
<rect x="1598" y="183" width="41" height="11" fill="#0000ff"/>
<rect x="1598" y="228" width="41" height="11" fill="#0000ff"/>
<rect x="1598" y="121" width="41" height="11" fill="#000000"/>
</g>
<text x="1602.5" y="55.9" font-size="10.2" fill="#ffffff" stroke="#ffffff" stroke-width="0.2" textLength="32.5" lengthAdjust="spacingAndGlyphs" xml:space="preserve">1.20019</text>
<text x="1602.5" y="101.9" font-size="10.2" fill="#ffffff" stroke="#ffffff" stroke-width="0.2" textLength="32.5" lengthAdjust="spacingAndGlyphs" xml:space="preserve">1.19008</text>
<text x="1602.5" y="145.9" font-size="10.2" fill="#ffffff" stroke="#ffffff" stroke-width="0.2" textLength="32.5" lengthAdjust="spacingAndGlyphs" xml:space="preserve">1.18024</text>
<text x="1602.5" y="191.9" font-size="10.2" fill="#ffffff" stroke="#ffffff" stroke-width="0.2" textLength="32.5" lengthAdjust="spacingAndGlyphs" xml:space="preserve">1.17014</text>
<text x="1602.5" y="236.9" font-size="10.2" fill="#ffffff" stroke="#ffffff" stroke-width="0.2" textLength="32.5" lengthAdjust="spacingAndGlyphs" xml:space="preserve">1.16003</text>
<text x="1602.5" y="129.9" font-size="10.2" fill="#ffffff" stroke="#ffffff" stroke-width="0.2" textLength="32.5" lengthAdjust="spacingAndGlyphs" xml:space="preserve">1.18394</text>
<text x="1600.5" y="591" font-size="10.2" fill="#000" stroke="#000" stroke-width="0.2" textLength="14.5" lengthAdjust="spacingAndGlyphs" xml:space="preserve">100</text>
<text x="1600.5" y="615" font-size="10.2" fill="#000" stroke="#000" stroke-width="0.2" textLength="9.7" lengthAdjust="spacingAndGlyphs" xml:space="preserve">70</text>
<text x="1600.5" y="655" font-size="10.2" fill="#000" stroke="#000" stroke-width="0.2" textLength="9.7" lengthAdjust="spacingAndGlyphs" xml:space="preserve">30</text>
<text x="1600.5" y="679" font-size="10.2" fill="#000" stroke="#000" stroke-width="0.2" textLength="4.8" lengthAdjust="spacingAndGlyphs" xml:space="preserve">0</text>
<text x="1600.5" y="695" font-size="10.2" fill="#000" stroke="#000" stroke-width="0.2" textLength="37.8" lengthAdjust="spacingAndGlyphs" xml:space="preserve">0.014384</text>
<text x="1600.5" y="761" font-size="10.2" fill="#000" stroke="#000" stroke-width="0.2" textLength="17.5" lengthAdjust="spacingAndGlyphs" xml:space="preserve">0.00</text>
<text x="1600" y="782" font-size="10.2" fill="#000" stroke="#000" stroke-width="0.2" textLength="41" lengthAdjust="spacingAndGlyphs" xml:space="preserve">-0.005396</text>
<path d="M7 29h7.4l-3.7 4z" fill="#000"/>
<text x="19.2" y="34" font-size="10.2" fill="#000" stroke="#000" stroke-width="0.2" textLength="63.1" lengthAdjust="spacingAndGlyphs" xml:space="preserve">EURUSD,Daily</text>
<text x="89.6" y="34" font-size="10.2" fill="#000" stroke="#000" stroke-width="0.2" textLength="140.4" lengthAdjust="spacingAndGlyphs" xml:space="preserve">1.18740 1.18757 1.18309 1.18394</text>
<text x="8.3" y="593" font-size="10.2" fill="#000" stroke="#000" stroke-width="0.2" textLength="67.5" lengthAdjust="spacingAndGlyphs" xml:space="preserve">RSI(14) 54.3761</text>
<text x="8.3" y="697" font-size="10.2" fill="#000" stroke="#000" stroke-width="0.2" textLength="147.5" lengthAdjust="spacingAndGlyphs" xml:space="preserve">MACD(12,26,9) 0.002376 0.001686</text>
<text x="3.6" y="797.9" font-size="10.2" fill="#000" stroke="#000" stroke-width="0.2" textLength="54" lengthAdjust="spacingAndGlyphs" xml:space="preserve">20 May 2020</text>
<text x="67.6" y="797.9" font-size="10.2" fill="#000" stroke="#000" stroke-width="0.2" textLength="53.8" lengthAdjust="spacingAndGlyphs" xml:space="preserve">29 May 2020</text>
<text x="131.6" y="797.9" font-size="10.2" fill="#000" stroke="#000" stroke-width="0.2" textLength="44.8" lengthAdjust="spacingAndGlyphs" xml:space="preserve">8 Jun 2020</text>
<text x="195.6" y="797.9" font-size="10.2" fill="#000" stroke="#000" stroke-width="0.2" textLength="48.6" lengthAdjust="spacingAndGlyphs" xml:space="preserve">17 Jun 2020</text>
<text x="259.6" y="797.9" font-size="10.2" fill="#000" stroke="#000" stroke-width="0.2" textLength="49.1" lengthAdjust="spacingAndGlyphs" xml:space="preserve">26 Jun 2020</text>
<text x="323.6" y="797.9" font-size="10.2" fill="#000" stroke="#000" stroke-width="0.2" textLength="41.4" lengthAdjust="spacingAndGlyphs" xml:space="preserve">6 Jul 2020</text>
<text x="387.6" y="797.9" font-size="10.2" fill="#000" stroke="#000" stroke-width="0.2" textLength="46" lengthAdjust="spacingAndGlyphs" xml:space="preserve">15 Jul 2020</text>
<text x="451.6" y="797.9" font-size="10.2" fill="#000" stroke="#000" stroke-width="0.2" textLength="46.6" lengthAdjust="spacingAndGlyphs" xml:space="preserve">24 Jul 2020</text>
<text x="515.6" y="797.9" font-size="10.2" fill="#000" stroke="#000" stroke-width="0.2" textLength="47.6" lengthAdjust="spacingAndGlyphs" xml:space="preserve">3 Aug 2020</text>
<text x="579.6" y="797.9" font-size="10.2" fill="#000" stroke="#000" stroke-width="0.2" textLength="52.4" lengthAdjust="spacingAndGlyphs" xml:space="preserve">12 Aug 2020</text>
<text x="643.6" y="797.9" font-size="10.2" fill="#000" stroke="#000" stroke-width="0.2" textLength="52.4" lengthAdjust="spacingAndGlyphs" xml:space="preserve">21 Aug 2020</text>
<text x="707.6" y="797.9" font-size="10.2" fill="#000" stroke="#000" stroke-width="0.2" textLength="52.4" lengthAdjust="spacingAndGlyphs" xml:space="preserve">31 Aug 2020</text>
<text x="771.6" y="797.9" font-size="10.2" fill="#000" stroke="#000" stroke-width="0.2" textLength="46.6" lengthAdjust="spacingAndGlyphs" xml:space="preserve">9 Sep 2020</text>
<text x="835.6" y="797.9" font-size="10.2" fill="#000" stroke="#000" stroke-width="0.2" textLength="51.7" lengthAdjust="spacingAndGlyphs" xml:space="preserve">18 Sep 2020</text>
<text x="899.6" y="797.9" font-size="10.2" fill="#000" stroke="#000" stroke-width="0.2" textLength="51.7" lengthAdjust="spacingAndGlyphs" xml:space="preserve">28 Sep 2020</text>
<text x="963.6" y="797.9" font-size="10.2" fill="#000" stroke="#000" stroke-width="0.2" textLength="45.3" lengthAdjust="spacingAndGlyphs" xml:space="preserve">7 Oct 2020</text>
<text x="1027.6" y="797.9" font-size="10.2" fill="#000" stroke="#000" stroke-width="0.2" textLength="50.4" lengthAdjust="spacingAndGlyphs" xml:space="preserve">16 Oct 2020</text>
<text x="1091.6" y="797.9" font-size="10.2" fill="#000" stroke="#000" stroke-width="0.2" textLength="50.4" lengthAdjust="spacingAndGlyphs" xml:space="preserve">26 Oct 2020</text>
<text x="1155.6" y="797.9" font-size="10.2" fill="#000" stroke="#000" stroke-width="0.2" textLength="48.6" lengthAdjust="spacingAndGlyphs" xml:space="preserve">4 Nov 2020</text>
<text x="1219.6" y="797.9" font-size="10.2" fill="#000" stroke="#000" stroke-width="0.2" textLength="53.3" lengthAdjust="spacingAndGlyphs" xml:space="preserve">13 Nov 2020</text>
<g shape-rendering="crispEdges">
<rect x="0" y="806" width="1641" height="1" fill="#dcdcdc"/>
<rect x="0" y="807" width="1641" height="1" fill="#fbfbfb"/>
<rect x="0" y="808" width="1641" height="1" fill="#000000"/>
<rect x="0" y="809" width="1641" height="1" fill="#ffffff"/>
<rect x="0" y="810" width="1641" height="17" fill="#f0f0f0"/>
<rect x="0" y="809" width="1" height="18" fill="#696969"/>
<rect x="5" y="808" width="104" height="19" fill="#000000"/>
<rect x="6" y="807" width="102" height="19" fill="#ffffff"/>
<rect x="209" y="811" width="1" height="14" fill="#808080"/>
<rect x="313" y="811" width="1" height="14" fill="#808080"/>
<rect x="417" y="811" width="1" height="14" fill="#808080"/>
<rect x="521" y="811" width="1" height="14" fill="#808080"/>
<rect x="625" y="811" width="1" height="14" fill="#808080"/>
<rect x="717" y="811" width="1" height="14" fill="#808080"/>
<rect x="821" y="811" width="1" height="14" fill="#808080"/>
<rect x="893" y="811" width="1" height="14" fill="#808080"/>
<rect x="973" y="811" width="1" height="14" fill="#808080"/>
<rect x="1053" y="811" width="1" height="14" fill="#808080"/>
<rect x="1133" y="811" width="1" height="14" fill="#808080"/>
<rect x="1210" y="811" width="1" height="14" fill="#808080"/>
<rect x="1281" y="811" width="1" height="14" fill="#808080"/>
<rect x="1365" y="811" width="1" height="14" fill="#808080"/>
<rect x="1445" y="811" width="1" height="14" fill="#808080"/>
<rect x="1545" y="811" width="1" height="14" fill="#808080"/>
</g>
<text x="17.5" y="823" font-size="12.4" fill="#000" textLength="79.4" lengthAdjust="spacingAndGlyphs" xml:space="preserve">EURUSD,Daily</text>
<text x="119" y="823" font-size="12.4" fill="#767676" textLength="79.4" lengthAdjust="spacingAndGlyphs" xml:space="preserve">USDCHF,Daily</text>
<text x="219.6" y="823" font-size="12.4" fill="#767676" textLength="82.4" lengthAdjust="spacingAndGlyphs" xml:space="preserve">AUDUSD,Daily</text>
<text x="323.8" y="823" font-size="12.4" fill="#767676" textLength="81.4" lengthAdjust="spacingAndGlyphs" xml:space="preserve">USDCAD,Daily</text>
<text x="426.9" y="823" font-size="12.4" fill="#767676" textLength="83.1" lengthAdjust="spacingAndGlyphs" xml:space="preserve">USDCNH,Daily</text>
<text x="533" y="823" font-size="12.4" fill="#767676" textLength="80" lengthAdjust="spacingAndGlyphs" xml:space="preserve">EURUSD,Daily</text>
<text x="637.5" y="823" font-size="12.4" fill="#767676" textLength="67.1" lengthAdjust="spacingAndGlyphs" xml:space="preserve">GBPUSD,H4</text>
<text x="728" y="823" font-size="12.4" fill="#767676" textLength="81" lengthAdjust="spacingAndGlyphs" xml:space="preserve">XAUUSD,Daily</text>
<text x="832" y="823" font-size="12.4" fill="#767676" textLength="49.4" lengthAdjust="spacingAndGlyphs" xml:space="preserve">HK50,H1</text>
<text x="904.4" y="823" font-size="12.4" fill="#767676" textLength="56.3" lengthAdjust="spacingAndGlyphs" xml:space="preserve">UK100,H1</text>
<text x="984.3" y="823" font-size="12.4" fill="#767676" textLength="56.3" lengthAdjust="spacingAndGlyphs" xml:space="preserve">UK100,H1</text>
<text x="1064" y="823" font-size="12.4" fill="#767676" textLength="56.4" lengthAdjust="spacingAndGlyphs" xml:space="preserve">GER30,H1</text>
<text x="1143" y="823" font-size="12.4" fill="#767676" textLength="54" lengthAdjust="spacingAndGlyphs" xml:space="preserve">FRA40,H1</text>
<text x="1219.3" y="823" font-size="12.4" fill="#767676" textLength="50.6" lengthAdjust="spacingAndGlyphs" xml:space="preserve">USOil,H4</text>
<text x="1291.4" y="823" font-size="12.4" fill="#767676" textLength="62.3" lengthAdjust="spacingAndGlyphs" xml:space="preserve">USDJPY,H1</text>
<text x="1375.2" y="823" font-size="12.4" fill="#767676" textLength="58.6" lengthAdjust="spacingAndGlyphs" xml:space="preserve">DJ30,Daily</text>
<text x="1455.3" y="823" font-size="12.4" fill="#767676" textLength="78.0" lengthAdjust="spacingAndGlyphs" xml:space="preserve">CHINA300,H1</text>
<text x="1555.3" y="823" font-size="12.4" fill="#767676" textLength="50.0" lengthAdjust="spacingAndGlyphs" xml:space="preserve">USOil,H1</text>
<path d="M1615.2 813.8v6.4l-3.4-3.2z" fill="#a0a0a0"/>
<path d="M1630.8 813.8v6.4l3.5-3.2z" fill="#000"/>
</svg></body></html>
